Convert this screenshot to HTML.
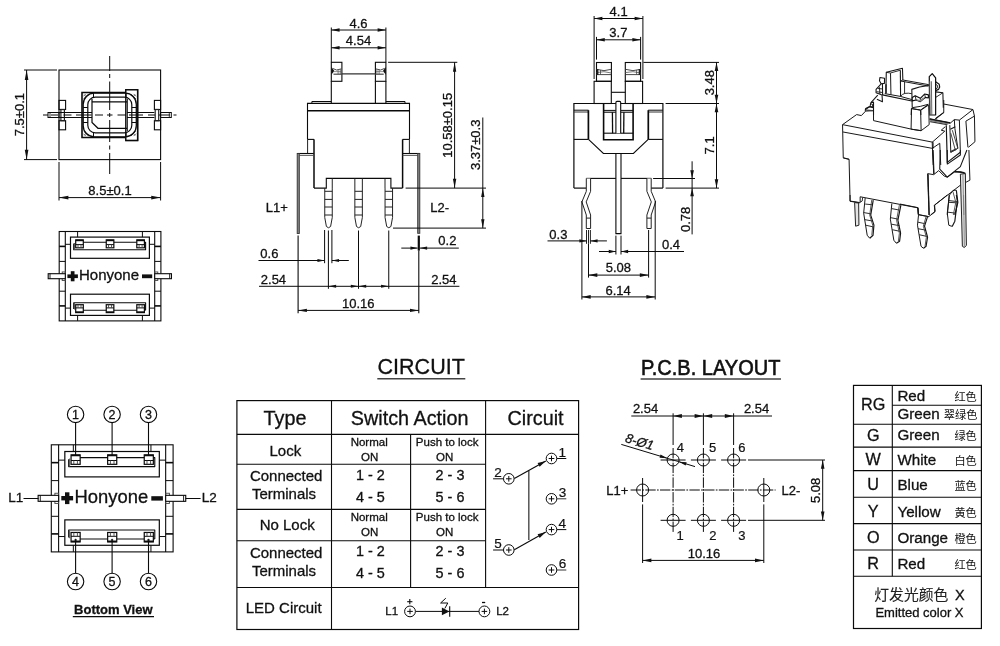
<!DOCTYPE html>
<html lang="en"><head><meta charset="utf-8"><title>Illuminated tact switch drawing</title>
<style>
html,body{margin:0;padding:0;background:#fff;}
body{width:1000px;height:646px;overflow:hidden;}
svg{display:block;will-change:transform;transform:translateZ(0);}
text{stroke:#111;stroke-width:0.3px;font-family:"Liberation Sans","Noto Sans CJK SC",sans-serif;}
</style></head><body>
<svg width="1000" height="646" viewBox="0 0 1000 646">
<rect width="1000" height="646" fill="#fff"/>
<rect x="59.00" y="70.00" width="101.60" height="89.60" fill="none" stroke="#0a0a0a" stroke-width="1.10"/>
<line x1="24.00" y1="70.00" x2="57.00" y2="70.00" stroke="#0a0a0a" stroke-width="1.00"/>
<line x1="24.00" y1="159.60" x2="57.00" y2="159.60" stroke="#0a0a0a" stroke-width="1.00"/>
<line x1="26.60" y1="70.00" x2="26.60" y2="159.60" stroke="#0a0a0a" stroke-width="1.00"/>
<polygon points="26.60,70.00 28.40,79.90 24.80,79.90" fill="#111"/>
<polygon points="26.60,159.60 24.80,149.70 28.40,149.70" fill="#111"/>
<text x="24.30" y="114.60" font-size="13" fill="#111" text-anchor="middle" transform="rotate(-90 24.30 114.60)">7.5±0.1</text>
<line x1="59.00" y1="162.00" x2="59.00" y2="200.50" stroke="#0a0a0a" stroke-width="1.00"/>
<line x1="160.60" y1="162.00" x2="160.60" y2="200.50" stroke="#0a0a0a" stroke-width="1.00"/>
<line x1="59.00" y1="197.60" x2="160.60" y2="197.60" stroke="#0a0a0a" stroke-width="1.00"/>
<polygon points="59.00,197.60 68.35,195.80 68.35,199.40" fill="#111"/>
<polygon points="160.60,197.60 151.25,199.40 151.25,195.80" fill="#111"/>
<text x="110.00" y="194.60" font-size="13" fill="#111" text-anchor="middle">8.5±0.1</text>
<rect x="59.00" y="100.40" width="6.60" height="9.10" fill="none" stroke="#0a0a0a" stroke-width="1.10"/>
<rect x="59.00" y="120.70" width="6.60" height="9.10" fill="none" stroke="#0a0a0a" stroke-width="1.10"/>
<rect x="60.90" y="109.50" width="3.50" height="11.20" fill="none" stroke="#222" stroke-width="1.20"/>
<rect x="154.40" y="100.40" width="6.20" height="9.10" fill="none" stroke="#0a0a0a" stroke-width="1.10"/>
<rect x="154.40" y="120.70" width="6.20" height="9.10" fill="none" stroke="#0a0a0a" stroke-width="1.10"/>
<rect x="155.20" y="109.50" width="3.50" height="11.20" fill="none" stroke="#222" stroke-width="1.20"/>
<rect x="48.00" y="112.50" width="11.00" height="5.00" fill="none" stroke="#0a0a0a" stroke-width="1.00"/>
<line x1="50.00" y1="112.50" x2="50.00" y2="117.50" stroke="#0a0a0a" stroke-width="0.80"/>
<rect x="160.60" y="112.50" width="10.70" height="5.00" fill="none" stroke="#0a0a0a" stroke-width="1.00"/>
<line x1="169.30" y1="112.50" x2="169.30" y2="117.50" stroke="#0a0a0a" stroke-width="0.80"/>
<line x1="59.00" y1="112.50" x2="82.00" y2="112.50" stroke="#0a0a0a" stroke-width="1.00"/>
<line x1="59.00" y1="117.50" x2="82.00" y2="117.50" stroke="#0a0a0a" stroke-width="1.00"/>
<line x1="137.50" y1="112.50" x2="154.40" y2="112.50" stroke="#0a0a0a" stroke-width="1.00"/>
<line x1="137.50" y1="117.50" x2="154.40" y2="117.50" stroke="#0a0a0a" stroke-width="1.00"/>
<rect x="125.80" y="89.70" width="11.90" height="50.90" fill="none" stroke="#0a0a0a" stroke-width="1.30"/>
<rect x="82.00" y="92.50" width="55.40" height="45.00" fill="#fff" stroke="none" stroke-width="0.00"/>
<polyline points="125.80,92.50 82.00,92.50 82.00,137.50 125.80,137.50" fill="none" stroke="#0a0a0a" stroke-width="1.60" stroke-linejoin="miter"/>
<rect x="125.80" y="89.80" width="11.80" height="50.60" fill="#fff" stroke="#0a0a0a" stroke-width="1.40"/>
<line x1="83.60" y1="99.00" x2="88.50" y2="94.10" stroke="#333" stroke-width="0.90"/>
<line x1="83.40" y1="96.30" x2="85.80" y2="93.90" stroke="#555" stroke-width="0.90"/>
<line x1="84.20" y1="94.70" x2="86.60" y2="97.10" stroke="#666" stroke-width="0.80"/>
<line x1="135.80" y1="99.00" x2="130.90" y2="94.10" stroke="#333" stroke-width="0.90"/>
<line x1="136.00" y1="96.30" x2="133.60" y2="93.90" stroke="#555" stroke-width="0.90"/>
<line x1="135.20" y1="94.70" x2="132.80" y2="97.10" stroke="#666" stroke-width="0.80"/>
<line x1="83.60" y1="131.00" x2="88.50" y2="135.90" stroke="#333" stroke-width="0.90"/>
<line x1="83.40" y1="133.70" x2="85.80" y2="136.10" stroke="#555" stroke-width="0.90"/>
<line x1="84.20" y1="135.30" x2="86.60" y2="132.90" stroke="#666" stroke-width="0.80"/>
<line x1="135.80" y1="131.00" x2="130.90" y2="135.90" stroke="#333" stroke-width="0.90"/>
<line x1="136.00" y1="133.70" x2="133.60" y2="136.10" stroke="#555" stroke-width="0.90"/>
<line x1="135.20" y1="135.30" x2="132.80" y2="132.90" stroke="#666" stroke-width="0.80"/>
<rect x="83.20" y="93.20" width="53.10" height="43.60" fill="none" stroke="#0a0a0a" stroke-width="1.30" rx="11"/>
<rect x="87.80" y="97.20" width="44.00" height="35.60" fill="none" stroke="#0a0a0a" stroke-width="1.20" rx="7.5"/>
<line x1="83.20" y1="107.50" x2="87.80" y2="107.50" stroke="#0a0a0a" stroke-width="1.00"/>
<line x1="83.20" y1="122.50" x2="87.80" y2="122.50" stroke="#0a0a0a" stroke-width="1.00"/>
<line x1="131.80" y1="107.50" x2="136.30" y2="107.50" stroke="#0a0a0a" stroke-width="1.00"/>
<line x1="131.80" y1="122.50" x2="136.30" y2="122.50" stroke="#0a0a0a" stroke-width="1.00"/>
<line x1="93.50" y1="93.20" x2="93.50" y2="97.40" stroke="#0a0a0a" stroke-width="1.00"/>
<line x1="126.00" y1="93.20" x2="126.00" y2="97.40" stroke="#0a0a0a" stroke-width="1.00"/>
<line x1="93.50" y1="132.60" x2="93.50" y2="136.80" stroke="#0a0a0a" stroke-width="1.00"/>
<line x1="126.00" y1="132.60" x2="126.00" y2="136.80" stroke="#0a0a0a" stroke-width="1.00"/>
<polyline points="92.00,101.80 127.00,101.80" fill="none" stroke="#0a0a0a" stroke-width="1.20" stroke-linejoin="miter"/>
<polyline points="92.00,99.00 92.00,122.50 98.00,128.30 127.00,128.30" fill="none" stroke="#0a0a0a" stroke-width="1.20" stroke-linejoin="miter"/>
<line x1="127.30" y1="99.00" x2="127.30" y2="131.00" stroke="#0a0a0a" stroke-width="1.00"/>
<line x1="82.00" y1="112.50" x2="92.00" y2="112.50" stroke="#0a0a0a" stroke-width="1.00"/>
<line x1="82.00" y1="117.50" x2="92.00" y2="117.50" stroke="#0a0a0a" stroke-width="1.00"/>
<line x1="127.00" y1="112.50" x2="137.50" y2="112.50" stroke="#0a0a0a" stroke-width="1.00"/>
<line x1="127.00" y1="117.50" x2="137.50" y2="117.50" stroke="#0a0a0a" stroke-width="1.00"/>
<line x1="109.70" y1="56.00" x2="109.70" y2="71.00" stroke="#0a0a0a" stroke-width="1.00"/>
<line x1="109.70" y1="74.00" x2="109.70" y2="78.00" stroke="#0a0a0a" stroke-width="1.00"/>
<line x1="109.70" y1="81.50" x2="109.70" y2="110.00" stroke="#0a0a0a" stroke-width="1.00"/>
<line x1="109.70" y1="113.00" x2="109.70" y2="117.00" stroke="#0a0a0a" stroke-width="1.00"/>
<line x1="109.70" y1="120.00" x2="109.70" y2="142.00" stroke="#0a0a0a" stroke-width="1.00"/>
<line x1="109.70" y1="145.50" x2="109.70" y2="149.50" stroke="#0a0a0a" stroke-width="1.00"/>
<line x1="109.70" y1="153.00" x2="109.70" y2="174.00" stroke="#0a0a0a" stroke-width="1.00"/>
<line x1="43.00" y1="115.00" x2="48.00" y2="115.00" stroke="#0a0a0a" stroke-width="1.00"/>
<line x1="51.00" y1="115.00" x2="58.00" y2="115.00" stroke="#0a0a0a" stroke-width="1.00"/>
<line x1="63.50" y1="115.00" x2="71.50" y2="115.00" stroke="#0a0a0a" stroke-width="1.00"/>
<line x1="76.00" y1="115.00" x2="91.50" y2="115.00" stroke="#0a0a0a" stroke-width="1.00"/>
<line x1="95.00" y1="115.00" x2="103.00" y2="115.00" stroke="#0a0a0a" stroke-width="1.00"/>
<line x1="107.00" y1="115.00" x2="112.50" y2="115.00" stroke="#0a0a0a" stroke-width="1.00"/>
<line x1="117.50" y1="115.00" x2="126.00" y2="115.00" stroke="#0a0a0a" stroke-width="1.00"/>
<line x1="129.00" y1="115.00" x2="143.00" y2="115.00" stroke="#0a0a0a" stroke-width="1.00"/>
<line x1="148.00" y1="115.00" x2="155.00" y2="115.00" stroke="#0a0a0a" stroke-width="1.00"/>
<line x1="159.00" y1="115.00" x2="170.00" y2="115.00" stroke="#0a0a0a" stroke-width="1.00"/>
<line x1="173.50" y1="115.00" x2="176.50" y2="115.00" stroke="#0a0a0a" stroke-width="1.00"/>
<rect x="59.20" y="231.50" width="101.70" height="89.40" fill="none" stroke="#0a0a0a" stroke-width="1.10"/>
<line x1="65.30" y1="231.50" x2="65.30" y2="320.90" stroke="#0a0a0a" stroke-width="1.10"/>
<line x1="154.70" y1="231.50" x2="154.70" y2="320.90" stroke="#0a0a0a" stroke-width="1.10"/>
<line x1="59.20" y1="246.40" x2="65.30" y2="246.40" stroke="#0a0a0a" stroke-width="1.60"/>
<line x1="154.70" y1="246.40" x2="160.90" y2="246.40" stroke="#0a0a0a" stroke-width="1.60"/>
<line x1="59.20" y1="261.40" x2="65.30" y2="261.40" stroke="#0a0a0a" stroke-width="1.00"/>
<line x1="154.70" y1="261.40" x2="160.90" y2="261.40" stroke="#0a0a0a" stroke-width="1.00"/>
<line x1="59.20" y1="291.20" x2="65.30" y2="291.20" stroke="#0a0a0a" stroke-width="1.00"/>
<line x1="154.70" y1="291.20" x2="160.90" y2="291.20" stroke="#0a0a0a" stroke-width="1.00"/>
<line x1="59.20" y1="305.90" x2="65.30" y2="305.90" stroke="#0a0a0a" stroke-width="1.60"/>
<line x1="154.70" y1="305.90" x2="160.90" y2="305.90" stroke="#0a0a0a" stroke-width="1.60"/>
<line x1="77.60" y1="231.50" x2="77.60" y2="237.10" stroke="#0a0a0a" stroke-width="1.00"/>
<line x1="77.60" y1="315.40" x2="77.60" y2="320.90" stroke="#0a0a0a" stroke-width="1.00"/>
<line x1="142.40" y1="231.50" x2="142.40" y2="237.10" stroke="#0a0a0a" stroke-width="1.00"/>
<line x1="142.40" y1="315.40" x2="142.40" y2="320.90" stroke="#0a0a0a" stroke-width="1.00"/>
<rect x="70.50" y="237.10" width="78.90" height="21.20" fill="none" stroke="#0a0a0a" stroke-width="1.20"/>
<rect x="70.50" y="294.20" width="78.90" height="21.20" fill="none" stroke="#0a0a0a" stroke-width="1.20"/>
<line x1="65.30" y1="244.30" x2="70.50" y2="244.30" stroke="#0a0a0a" stroke-width="1.00"/>
<line x1="149.40" y1="244.30" x2="154.70" y2="244.30" stroke="#0a0a0a" stroke-width="1.00"/>
<line x1="65.30" y1="308.10" x2="70.50" y2="308.10" stroke="#0a0a0a" stroke-width="1.00"/>
<line x1="149.40" y1="308.10" x2="154.70" y2="308.10" stroke="#0a0a0a" stroke-width="1.00"/>
<path d="M76.00,242.20 H145.60 V249.70 H73.70 V243.50" fill="none" stroke="#0a0a0a" stroke-width="1.10" stroke-linejoin="round"/>
<line x1="74.50" y1="243.00" x2="74.50" y2="249.70" stroke="#555" stroke-width="1.00"/>
<path d="M76.00,310.20 H145.60 M145.60,310.20 V302.70 H73.70 V309.00" fill="none" stroke="#0a0a0a" stroke-width="1.10" stroke-linejoin="round"/>
<line x1="74.50" y1="303.00" x2="74.50" y2="309.50" stroke="#555" stroke-width="1.00"/>
<rect x="75.70" y="239.90" width="7.60" height="7.90" fill="#fff" stroke="#0a0a0a" stroke-width="1.20"/>
<line x1="75.70" y1="240.40" x2="83.30" y2="240.40" stroke="#0a0a0a" stroke-width="1.60"/>
<line x1="75.70" y1="244.60" x2="83.30" y2="244.60" stroke="#0a0a0a" stroke-width="1.00"/>
<line x1="78.00" y1="244.60" x2="78.00" y2="247.80" stroke="#444" stroke-width="0.90"/>
<line x1="81.00" y1="244.60" x2="81.00" y2="247.80" stroke="#444" stroke-width="0.90"/>
<rect x="75.70" y="304.70" width="7.60" height="7.90" fill="#fff" stroke="#0a0a0a" stroke-width="1.20"/>
<line x1="75.70" y1="312.10" x2="83.30" y2="312.10" stroke="#0a0a0a" stroke-width="1.60"/>
<line x1="75.70" y1="307.90" x2="83.30" y2="307.90" stroke="#0a0a0a" stroke-width="1.00"/>
<line x1="78.00" y1="304.70" x2="78.00" y2="307.90" stroke="#444" stroke-width="0.90"/>
<line x1="81.00" y1="304.70" x2="81.00" y2="307.90" stroke="#444" stroke-width="0.90"/>
<rect x="106.25" y="239.90" width="7.60" height="7.90" fill="#fff" stroke="#0a0a0a" stroke-width="1.20"/>
<line x1="106.25" y1="240.40" x2="113.85" y2="240.40" stroke="#0a0a0a" stroke-width="1.60"/>
<line x1="106.25" y1="244.60" x2="113.85" y2="244.60" stroke="#0a0a0a" stroke-width="1.00"/>
<line x1="108.55" y1="244.60" x2="108.55" y2="247.80" stroke="#444" stroke-width="0.90"/>
<line x1="111.55" y1="244.60" x2="111.55" y2="247.80" stroke="#444" stroke-width="0.90"/>
<rect x="106.25" y="304.70" width="7.60" height="7.90" fill="#fff" stroke="#0a0a0a" stroke-width="1.20"/>
<line x1="106.25" y1="312.10" x2="113.85" y2="312.10" stroke="#0a0a0a" stroke-width="1.60"/>
<line x1="106.25" y1="307.90" x2="113.85" y2="307.90" stroke="#0a0a0a" stroke-width="1.00"/>
<line x1="108.55" y1="304.70" x2="108.55" y2="307.90" stroke="#444" stroke-width="0.90"/>
<line x1="111.55" y1="304.70" x2="111.55" y2="307.90" stroke="#444" stroke-width="0.90"/>
<rect x="136.80" y="239.90" width="7.60" height="7.90" fill="#fff" stroke="#0a0a0a" stroke-width="1.20"/>
<line x1="136.80" y1="240.40" x2="144.40" y2="240.40" stroke="#0a0a0a" stroke-width="1.60"/>
<line x1="136.80" y1="244.60" x2="144.40" y2="244.60" stroke="#0a0a0a" stroke-width="1.00"/>
<line x1="139.10" y1="244.60" x2="139.10" y2="247.80" stroke="#444" stroke-width="0.90"/>
<line x1="142.10" y1="244.60" x2="142.10" y2="247.80" stroke="#444" stroke-width="0.90"/>
<rect x="136.80" y="304.70" width="7.60" height="7.90" fill="#fff" stroke="#0a0a0a" stroke-width="1.20"/>
<line x1="136.80" y1="312.10" x2="144.40" y2="312.10" stroke="#0a0a0a" stroke-width="1.60"/>
<line x1="136.80" y1="307.90" x2="144.40" y2="307.90" stroke="#0a0a0a" stroke-width="1.00"/>
<line x1="139.10" y1="304.70" x2="139.10" y2="307.90" stroke="#444" stroke-width="0.90"/>
<line x1="142.10" y1="304.70" x2="142.10" y2="307.90" stroke="#444" stroke-width="0.90"/>
<rect x="62.20" y="271.95" width="3.10" height="8.50" fill="none" stroke="#444" stroke-width="0.90"/>
<rect x="154.70" y="271.95" width="3.10" height="8.50" fill="none" stroke="#444" stroke-width="0.90"/>
<rect x="48.20" y="273.70" width="17.10" height="5.00" fill="#fff" stroke="#0a0a0a" stroke-width="1.10"/>
<line x1="50.00" y1="273.70" x2="50.00" y2="278.70" stroke="#0a0a0a" stroke-width="0.90"/>
<rect x="154.70" y="273.70" width="16.76" height="5.00" fill="#fff" stroke="#0a0a0a" stroke-width="1.10"/>
<line x1="169.66" y1="273.70" x2="169.66" y2="278.70" stroke="#0a0a0a" stroke-width="0.90"/>
<rect x="67.40" y="274.40" width="10.50" height="3.70" fill="#111" stroke="none" stroke-width="0.00"/>
<rect x="70.80" y="271.20" width="3.70" height="10.10" fill="#111" stroke="none" stroke-width="0.00"/>
<rect x="142.00" y="274.40" width="10.20" height="3.80" fill="#111" stroke="none" stroke-width="0.00"/>
<text x="79.00" y="280.10" font-size="15" fill="#111">Honyone</text>
<rect x="51.30" y="444.80" width="121.80" height="107.10" fill="none" stroke="#0a0a0a" stroke-width="1.10"/>
<line x1="58.61" y1="444.80" x2="58.61" y2="551.90" stroke="#0a0a0a" stroke-width="1.10"/>
<line x1="165.67" y1="444.80" x2="165.67" y2="551.90" stroke="#0a0a0a" stroke-width="1.10"/>
<line x1="51.30" y1="462.64" x2="58.61" y2="462.64" stroke="#0a0a0a" stroke-width="1.60"/>
<line x1="165.67" y1="462.64" x2="173.10" y2="462.64" stroke="#0a0a0a" stroke-width="1.60"/>
<line x1="51.30" y1="480.61" x2="58.61" y2="480.61" stroke="#0a0a0a" stroke-width="1.00"/>
<line x1="165.67" y1="480.61" x2="173.10" y2="480.61" stroke="#0a0a0a" stroke-width="1.00"/>
<line x1="51.30" y1="516.30" x2="58.61" y2="516.30" stroke="#0a0a0a" stroke-width="1.00"/>
<line x1="165.67" y1="516.30" x2="173.10" y2="516.30" stroke="#0a0a0a" stroke-width="1.00"/>
<line x1="51.30" y1="533.90" x2="58.61" y2="533.90" stroke="#0a0a0a" stroke-width="1.60"/>
<line x1="165.67" y1="533.90" x2="173.10" y2="533.90" stroke="#0a0a0a" stroke-width="1.60"/>
<line x1="73.34" y1="444.80" x2="73.34" y2="451.51" stroke="#0a0a0a" stroke-width="1.00"/>
<line x1="73.34" y1="545.28" x2="73.34" y2="551.90" stroke="#0a0a0a" stroke-width="1.00"/>
<line x1="150.94" y1="444.80" x2="150.94" y2="451.51" stroke="#0a0a0a" stroke-width="1.00"/>
<line x1="150.94" y1="545.28" x2="150.94" y2="551.90" stroke="#0a0a0a" stroke-width="1.00"/>
<rect x="64.83" y="451.51" width="94.49" height="25.39" fill="none" stroke="#0a0a0a" stroke-width="1.20"/>
<rect x="64.83" y="519.89" width="94.49" height="25.39" fill="none" stroke="#0a0a0a" stroke-width="1.20"/>
<line x1="58.61" y1="460.13" x2="64.83" y2="460.13" stroke="#0a0a0a" stroke-width="1.00"/>
<line x1="159.33" y1="460.13" x2="165.67" y2="460.13" stroke="#0a0a0a" stroke-width="1.00"/>
<line x1="58.61" y1="536.54" x2="64.83" y2="536.54" stroke="#0a0a0a" stroke-width="1.00"/>
<line x1="159.33" y1="536.54" x2="165.67" y2="536.54" stroke="#0a0a0a" stroke-width="1.00"/>
<path d="M71.42,457.61 H154.78 V466.60 H68.67 V459.17" fill="none" stroke="#0a0a0a" stroke-width="1.10" stroke-linejoin="round"/>
<line x1="69.62" y1="458.57" x2="69.62" y2="466.60" stroke="#555" stroke-width="1.00"/>
<path d="M71.42,539.05 H154.78 M154.78,539.05 V530.07 H68.67 V537.62" fill="none" stroke="#0a0a0a" stroke-width="1.10" stroke-linejoin="round"/>
<line x1="69.62" y1="530.43" x2="69.62" y2="538.22" stroke="#555" stroke-width="1.00"/>
<rect x="71.06" y="454.86" width="9.10" height="9.46" fill="#fff" stroke="#0a0a0a" stroke-width="1.20"/>
<line x1="71.06" y1="455.46" x2="80.16" y2="455.46" stroke="#0a0a0a" stroke-width="1.60"/>
<line x1="71.06" y1="460.49" x2="80.16" y2="460.49" stroke="#0a0a0a" stroke-width="1.00"/>
<line x1="73.82" y1="460.49" x2="73.82" y2="464.32" stroke="#444" stroke-width="0.90"/>
<line x1="77.41" y1="460.49" x2="77.41" y2="464.32" stroke="#444" stroke-width="0.90"/>
<rect x="71.06" y="532.47" width="9.10" height="9.46" fill="#fff" stroke="#0a0a0a" stroke-width="1.20"/>
<line x1="71.06" y1="541.33" x2="80.16" y2="541.33" stroke="#0a0a0a" stroke-width="1.60"/>
<line x1="71.06" y1="536.30" x2="80.16" y2="536.30" stroke="#0a0a0a" stroke-width="1.00"/>
<line x1="73.82" y1="532.47" x2="73.82" y2="536.30" stroke="#444" stroke-width="0.90"/>
<line x1="77.41" y1="532.47" x2="77.41" y2="536.30" stroke="#444" stroke-width="0.90"/>
<rect x="107.65" y="454.86" width="9.10" height="9.46" fill="#fff" stroke="#0a0a0a" stroke-width="1.20"/>
<line x1="107.65" y1="455.46" x2="116.75" y2="455.46" stroke="#0a0a0a" stroke-width="1.60"/>
<line x1="107.65" y1="460.49" x2="116.75" y2="460.49" stroke="#0a0a0a" stroke-width="1.00"/>
<line x1="110.40" y1="460.49" x2="110.40" y2="464.32" stroke="#444" stroke-width="0.90"/>
<line x1="114.00" y1="460.49" x2="114.00" y2="464.32" stroke="#444" stroke-width="0.90"/>
<rect x="107.65" y="532.47" width="9.10" height="9.46" fill="#fff" stroke="#0a0a0a" stroke-width="1.20"/>
<line x1="107.65" y1="541.33" x2="116.75" y2="541.33" stroke="#0a0a0a" stroke-width="1.60"/>
<line x1="107.65" y1="536.30" x2="116.75" y2="536.30" stroke="#0a0a0a" stroke-width="1.00"/>
<line x1="110.40" y1="532.47" x2="110.40" y2="536.30" stroke="#444" stroke-width="0.90"/>
<line x1="114.00" y1="532.47" x2="114.00" y2="536.30" stroke="#444" stroke-width="0.90"/>
<rect x="144.24" y="454.86" width="9.10" height="9.46" fill="#fff" stroke="#0a0a0a" stroke-width="1.20"/>
<line x1="144.24" y1="455.46" x2="153.34" y2="455.46" stroke="#0a0a0a" stroke-width="1.60"/>
<line x1="144.24" y1="460.49" x2="153.34" y2="460.49" stroke="#0a0a0a" stroke-width="1.00"/>
<line x1="146.99" y1="460.49" x2="146.99" y2="464.32" stroke="#444" stroke-width="0.90"/>
<line x1="150.58" y1="460.49" x2="150.58" y2="464.32" stroke="#444" stroke-width="0.90"/>
<rect x="144.24" y="532.47" width="9.10" height="9.46" fill="#fff" stroke="#0a0a0a" stroke-width="1.20"/>
<line x1="144.24" y1="541.33" x2="153.34" y2="541.33" stroke="#0a0a0a" stroke-width="1.60"/>
<line x1="144.24" y1="536.30" x2="153.34" y2="536.30" stroke="#0a0a0a" stroke-width="1.00"/>
<line x1="146.99" y1="532.47" x2="146.99" y2="536.30" stroke="#444" stroke-width="0.90"/>
<line x1="150.58" y1="532.47" x2="150.58" y2="536.30" stroke="#444" stroke-width="0.90"/>
<rect x="54.89" y="493.24" width="3.71" height="10.18" fill="none" stroke="#444" stroke-width="0.90"/>
<rect x="165.67" y="493.24" width="3.71" height="10.18" fill="none" stroke="#444" stroke-width="0.90"/>
<rect x="38.13" y="495.34" width="20.48" height="5.99" fill="#fff" stroke="#0a0a0a" stroke-width="1.10"/>
<line x1="40.28" y1="495.34" x2="40.28" y2="501.33" stroke="#0a0a0a" stroke-width="0.90"/>
<rect x="165.67" y="495.34" width="20.07" height="5.99" fill="#fff" stroke="#0a0a0a" stroke-width="1.10"/>
<line x1="183.59" y1="495.34" x2="183.59" y2="501.33" stroke="#0a0a0a" stroke-width="0.90"/>
<rect x="61.30" y="496.00" width="11.80" height="4.40" fill="#111" stroke="none" stroke-width="0.00"/>
<rect x="65.00" y="492.30" width="4.40" height="11.80" fill="#111" stroke="none" stroke-width="0.00"/>
<rect x="151.30" y="496.20" width="11.60" height="4.40" fill="#111" stroke="none" stroke-width="0.00"/>
<text x="74.60" y="503.00" font-size="18.4" fill="#111">Honyone</text>
<line x1="23.50" y1="498.50" x2="38.50" y2="498.50" stroke="#0a0a0a" stroke-width="1.00"/>
<line x1="185.60" y1="498.50" x2="200.60" y2="498.50" stroke="#0a0a0a" stroke-width="1.00"/>
<text x="8.20" y="502.00" font-size="13.5" fill="#111">L1</text>
<text x="201.80" y="502.00" font-size="13.5" fill="#111">L2</text>
<circle cx="75.60" cy="414.40" r="8.20" fill="none" stroke="#0a0a0a" stroke-width="1.10"/>
<text x="75.60" y="418.90" font-size="12.5" fill="#111" text-anchor="middle">1</text>
<line x1="75.60" y1="422.60" x2="75.60" y2="456.00" stroke="#0a0a0a" stroke-width="1.10"/>
<circle cx="75.60" cy="581.50" r="8.20" fill="none" stroke="#0a0a0a" stroke-width="1.10"/>
<text x="75.60" y="586.00" font-size="12.5" fill="#111" text-anchor="middle">4</text>
<line x1="75.60" y1="541.00" x2="75.60" y2="573.30" stroke="#0a0a0a" stroke-width="1.10"/>
<circle cx="75.60" cy="540.00" r="0.90" fill="#111" stroke="#0a0a0a" stroke-width="0.50"/>
<circle cx="112.10" cy="414.40" r="8.20" fill="none" stroke="#0a0a0a" stroke-width="1.10"/>
<text x="112.10" y="418.90" font-size="12.5" fill="#111" text-anchor="middle">2</text>
<line x1="112.10" y1="422.60" x2="112.10" y2="456.00" stroke="#0a0a0a" stroke-width="1.10"/>
<circle cx="112.10" cy="581.50" r="8.20" fill="none" stroke="#0a0a0a" stroke-width="1.10"/>
<text x="112.10" y="586.00" font-size="12.5" fill="#111" text-anchor="middle">5</text>
<line x1="112.10" y1="541.00" x2="112.10" y2="573.30" stroke="#0a0a0a" stroke-width="1.10"/>
<circle cx="112.10" cy="540.00" r="0.90" fill="#111" stroke="#0a0a0a" stroke-width="0.50"/>
<circle cx="148.50" cy="414.40" r="8.20" fill="none" stroke="#0a0a0a" stroke-width="1.10"/>
<text x="148.50" y="418.90" font-size="12.5" fill="#111" text-anchor="middle">3</text>
<line x1="148.50" y1="422.60" x2="148.50" y2="456.00" stroke="#0a0a0a" stroke-width="1.10"/>
<circle cx="148.50" cy="581.50" r="8.20" fill="none" stroke="#0a0a0a" stroke-width="1.10"/>
<text x="148.50" y="586.00" font-size="12.5" fill="#111" text-anchor="middle">6</text>
<line x1="148.50" y1="541.00" x2="148.50" y2="573.30" stroke="#0a0a0a" stroke-width="1.10"/>
<circle cx="148.50" cy="540.00" r="0.90" fill="#111" stroke="#0a0a0a" stroke-width="0.50"/>
<text x="113.30" y="613.90" font-size="13" fill="#111" text-anchor="middle" font-weight="bold">Bottom View</text>
<line x1="72.80" y1="616.70" x2="154.00" y2="616.70" stroke="#0a0a0a" stroke-width="1.30"/>
<line x1="331.30" y1="27.50" x2="331.30" y2="62.30" stroke="#0a0a0a" stroke-width="1.00"/>
<line x1="385.90" y1="27.50" x2="385.90" y2="62.30" stroke="#0a0a0a" stroke-width="1.00"/>
<line x1="331.30" y1="30.00" x2="385.90" y2="30.00" stroke="#0a0a0a" stroke-width="1.00"/>
<polygon points="331.30,30.00 339.55,28.32 339.55,31.68" fill="#111"/>
<polygon points="385.90,30.00 377.65,31.68 377.65,28.32" fill="#111"/>
<line x1="331.30" y1="47.80" x2="385.90" y2="47.80" stroke="#0a0a0a" stroke-width="1.00"/>
<polygon points="331.30,47.80 339.55,46.12 339.55,49.48" fill="#111"/>
<polygon points="385.90,47.80 377.65,49.48 377.65,46.12" fill="#111"/>
<text x="358.50" y="27.50" font-size="13" fill="#111" text-anchor="middle">4.6</text>
<text x="358.50" y="45.20" font-size="13" fill="#111" text-anchor="middle">4.54</text>
<rect x="331.30" y="62.30" width="10.60" height="19.00" fill="none" stroke="#0a0a0a" stroke-width="1.10"/>
<polygon points="331.30,67.0 334.30,70.9 331.30,74.8" fill="#111"/>
<path d="M332.50,68.4 Q336.30,71.4 341.30,68.9" fill="none" stroke="#333" stroke-width="0.90" stroke-linejoin="round"/>
<line x1="333.50" y1="74.20" x2="341.90" y2="74.20" stroke="#444" stroke-width="1.20"/>
<line x1="333.70" y1="71.60" x2="341.10" y2="71.60" stroke="#777" stroke-width="0.80"/>
<line x1="338.10" y1="69.60" x2="338.10" y2="74.20" stroke="#555" stroke-width="0.80"/>
<line x1="340.30" y1="69.20" x2="340.30" y2="74.20" stroke="#555" stroke-width="0.80"/>
<rect x="375.40" y="62.30" width="10.50" height="19.00" fill="none" stroke="#0a0a0a" stroke-width="1.10"/>
<polygon points="385.90,67.0 382.90,70.9 385.90,74.8" fill="#111"/>
<path d="M384.70,68.4 Q380.90,71.4 375.90,68.9" fill="none" stroke="#333" stroke-width="0.90" stroke-linejoin="round"/>
<line x1="383.70" y1="74.20" x2="375.30" y2="74.20" stroke="#444" stroke-width="1.20"/>
<line x1="383.50" y1="71.60" x2="376.10" y2="71.60" stroke="#777" stroke-width="0.80"/>
<line x1="379.10" y1="69.60" x2="379.10" y2="74.20" stroke="#555" stroke-width="0.80"/>
<line x1="376.90" y1="69.20" x2="376.90" y2="74.20" stroke="#555" stroke-width="0.80"/>
<line x1="341.90" y1="73.90" x2="375.40" y2="73.90" stroke="#333" stroke-width="1.40"/>
<line x1="331.30" y1="81.30" x2="331.30" y2="103.30" stroke="#0a0a0a" stroke-width="1.10"/>
<line x1="375.40" y1="81.30" x2="375.40" y2="103.30" stroke="#0a0a0a" stroke-width="1.10"/>
<line x1="385.90" y1="81.30" x2="385.90" y2="103.30" stroke="#0a0a0a" stroke-width="1.10"/>
<polyline points="311.90,103.30 311.90,101.50 331.30,101.50" fill="none" stroke="#0a0a0a" stroke-width="1.00" stroke-linejoin="miter"/>
<polyline points="385.90,101.50 405.00,101.50 405.00,103.30" fill="none" stroke="#0a0a0a" stroke-width="1.00" stroke-linejoin="miter"/>
<polyline points="307.50,139.40 307.50,103.40 409.50,103.40 409.50,139.40" fill="none" stroke="#0a0a0a" stroke-width="1.10" stroke-linejoin="miter"/>
<line x1="307.50" y1="110.70" x2="409.50" y2="110.70" stroke="#0a0a0a" stroke-width="1.50"/>
<line x1="307.50" y1="139.40" x2="314.20" y2="139.40" stroke="#0a0a0a" stroke-width="1.10"/>
<line x1="307.60" y1="139.40" x2="307.60" y2="153.40" stroke="#222" stroke-width="1.00"/>
<line x1="314.00" y1="139.40" x2="314.00" y2="188.10" stroke="#0a0a0a" stroke-width="1.50"/>
<line x1="297.30" y1="153.50" x2="313.80" y2="153.50" stroke="#0a0a0a" stroke-width="1.10"/>
<line x1="299.20" y1="155.40" x2="313.80" y2="155.40" stroke="#444" stroke-width="0.90"/>
<rect x="297.20" y="153.50" width="2.10" height="80.00" fill="#888" stroke="#333" stroke-width="0.90"/>
<polyline points="314.00,188.10 326.30,188.10 326.30,178.40 390.90,178.40 390.90,188.10 402.50,188.10" fill="none" stroke="#0a0a0a" stroke-width="1.10" stroke-linejoin="miter"/>
<line x1="402.50" y1="139.40" x2="409.50" y2="139.40" stroke="#0a0a0a" stroke-width="1.10"/>
<line x1="409.40" y1="139.40" x2="409.40" y2="153.40" stroke="#222" stroke-width="1.00"/>
<line x1="402.60" y1="139.40" x2="402.60" y2="188.10" stroke="#0a0a0a" stroke-width="1.50"/>
<line x1="402.60" y1="153.50" x2="419.90" y2="153.50" stroke="#0a0a0a" stroke-width="1.10"/>
<line x1="402.60" y1="155.40" x2="417.80" y2="155.40" stroke="#444" stroke-width="0.90"/>
<rect x="417.70" y="153.50" width="2.10" height="79.80" fill="#888" stroke="#333" stroke-width="0.90"/>
<line x1="418.80" y1="235.60" x2="418.80" y2="250.60" stroke="#0a0a0a" stroke-width="2.20"/>
<line x1="324.75" y1="188.10" x2="324.75" y2="217.50" stroke="#222" stroke-width="1.00"/>
<line x1="332.25" y1="188.10" x2="332.25" y2="217.50" stroke="#222" stroke-width="1.00"/>
<line x1="324.75" y1="191.30" x2="332.25" y2="191.30" stroke="#222" stroke-width="1.00"/>
<line x1="324.75" y1="199.40" x2="332.25" y2="199.40" stroke="#222" stroke-width="1.00"/>
<line x1="324.75" y1="207.00" x2="332.25" y2="207.00" stroke="#222" stroke-width="1.00"/>
<line x1="324.75" y1="215.00" x2="332.25" y2="215.00" stroke="#222" stroke-width="1.00"/>
<path d="M324.75,217.5 L326.40,226.5 Q328.50,229 330.60,226.5 L332.25,217.5" fill="none" stroke="#222" stroke-width="1.00" stroke-linejoin="round"/>
<line x1="354.85" y1="178.40" x2="354.85" y2="217.50" stroke="#222" stroke-width="1.00"/>
<line x1="362.35" y1="178.40" x2="362.35" y2="217.50" stroke="#222" stroke-width="1.00"/>
<line x1="354.85" y1="191.30" x2="362.35" y2="191.30" stroke="#222" stroke-width="1.00"/>
<line x1="354.85" y1="199.40" x2="362.35" y2="199.40" stroke="#222" stroke-width="1.00"/>
<line x1="354.85" y1="207.00" x2="362.35" y2="207.00" stroke="#222" stroke-width="1.00"/>
<line x1="354.85" y1="215.00" x2="362.35" y2="215.00" stroke="#222" stroke-width="1.00"/>
<path d="M354.85,217.5 L356.50,226.5 Q358.60,229 360.70,226.5 L362.35,217.5" fill="none" stroke="#222" stroke-width="1.00" stroke-linejoin="round"/>
<line x1="385.05" y1="188.10" x2="385.05" y2="217.50" stroke="#222" stroke-width="1.00"/>
<line x1="392.55" y1="188.10" x2="392.55" y2="217.50" stroke="#222" stroke-width="1.00"/>
<line x1="385.05" y1="191.30" x2="392.55" y2="191.30" stroke="#222" stroke-width="1.00"/>
<line x1="385.05" y1="199.40" x2="392.55" y2="199.40" stroke="#222" stroke-width="1.00"/>
<line x1="385.05" y1="207.00" x2="392.55" y2="207.00" stroke="#222" stroke-width="1.00"/>
<line x1="385.05" y1="215.00" x2="392.55" y2="215.00" stroke="#222" stroke-width="1.00"/>
<path d="M385.05,217.5 L386.70,226.5 Q388.80,229 390.90,226.5 L392.55,217.5" fill="none" stroke="#222" stroke-width="1.00" stroke-linejoin="round"/>
<line x1="332.25" y1="178.40" x2="332.25" y2="188.10" stroke="#222" stroke-width="1.00"/>
<line x1="385.00" y1="178.40" x2="385.00" y2="188.10" stroke="#222" stroke-width="1.00"/>
<text x="265.80" y="212.30" font-size="13" fill="#111">L1+</text>
<text x="430.30" y="212.30" font-size="13" fill="#111">L2-</text>
<line x1="324.60" y1="230.00" x2="324.60" y2="263.20" stroke="#0a0a0a" stroke-width="1.00"/>
<line x1="331.90" y1="230.00" x2="331.90" y2="263.20" stroke="#0a0a0a" stroke-width="1.00"/>
<line x1="328.40" y1="230.50" x2="328.40" y2="288.80" stroke="#0a0a0a" stroke-width="1.00"/>
<line x1="358.50" y1="230.50" x2="358.50" y2="288.80" stroke="#0a0a0a" stroke-width="1.00"/>
<line x1="388.75" y1="230.50" x2="388.75" y2="288.80" stroke="#0a0a0a" stroke-width="1.00"/>
<line x1="258.50" y1="260.50" x2="324.60" y2="260.50" stroke="#0a0a0a" stroke-width="1.00"/>
<polygon points="324.60,260.50 317.45,262.06 317.45,258.94" fill="#111"/>
<line x1="331.90" y1="260.50" x2="348.80" y2="260.50" stroke="#0a0a0a" stroke-width="1.00"/>
<polygon points="331.90,260.50 339.05,258.94 339.05,262.06" fill="#111"/>
<text x="260.30" y="258.10" font-size="13" fill="#111">0.6</text>
<line x1="259.00" y1="286.30" x2="459.40" y2="286.30" stroke="#0a0a0a" stroke-width="1.00"/>
<polygon points="328.40,286.30 336.10,284.74 336.10,287.86" fill="#111"/>
<polygon points="358.50,286.30 350.80,287.86 350.80,284.74" fill="#111"/>
<polygon points="358.50,286.30 366.20,284.74 366.20,287.86" fill="#111"/>
<polygon points="388.75,286.30 381.05,287.86 381.05,284.74" fill="#111"/>
<text x="260.80" y="283.50" font-size="13" fill="#111">2.54</text>
<text x="431.20" y="283.50" font-size="13" fill="#111">2.54</text>
<line x1="298.10" y1="235.60" x2="298.10" y2="313.20" stroke="#0a0a0a" stroke-width="1.10"/>
<line x1="418.80" y1="250.60" x2="418.80" y2="313.20" stroke="#0a0a0a" stroke-width="1.10"/>
<line x1="298.10" y1="310.40" x2="418.80" y2="310.40" stroke="#0a0a0a" stroke-width="1.00"/>
<polygon points="298.10,310.40 306.90,308.72 306.90,312.08" fill="#111"/>
<polygon points="418.80,310.40 410.00,312.08 410.00,308.72" fill="#111"/>
<text x="358.30" y="308.10" font-size="13" fill="#111" text-anchor="middle">10.16</text>
<line x1="401.30" y1="248.10" x2="417.60" y2="248.10" stroke="#0a0a0a" stroke-width="1.00"/>
<polygon points="417.60,248.10 410.45,249.66 410.45,246.54" fill="#111"/>
<line x1="420.00" y1="248.10" x2="458.80" y2="248.10" stroke="#0a0a0a" stroke-width="1.00"/>
<polygon points="420.00,248.10 427.15,246.54 427.15,249.66" fill="#111"/>
<text x="438.30" y="245.30" font-size="13" fill="#111">0.2</text>
<line x1="388.10" y1="62.30" x2="457.30" y2="62.30" stroke="#0a0a0a" stroke-width="1.00"/>
<line x1="405.60" y1="188.10" x2="486.00" y2="188.10" stroke="#0a0a0a" stroke-width="1.00"/>
<line x1="393.00" y1="228.10" x2="486.00" y2="228.10" stroke="#0a0a0a" stroke-width="1.00"/>
<line x1="454.60" y1="62.30" x2="454.60" y2="188.10" stroke="#0a0a0a" stroke-width="1.00"/>
<polygon points="454.60,62.30 456.28,71.65 452.92,71.65" fill="#111"/>
<polygon points="454.60,188.10 452.92,178.75 456.28,178.75" fill="#111"/>
<text x="452.20" y="125.30" font-size="13" fill="#111" text-anchor="middle" transform="rotate(-90 452.20 125.30)">10.58±0.15</text>
<line x1="482.80" y1="117.50" x2="482.80" y2="228.10" stroke="#0a0a0a" stroke-width="1.00"/>
<polygon points="482.80,188.10 484.48,196.90 481.12,196.90" fill="#111"/>
<polygon points="482.80,228.10 481.12,219.30 484.48,219.30" fill="#111"/>
<text x="480.50" y="144.80" font-size="13" fill="#111" text-anchor="middle" transform="rotate(-90 480.50 144.80)">3.37±0.3</text>
<line x1="594.10" y1="16.00" x2="594.10" y2="79.00" stroke="#0a0a0a" stroke-width="1.00"/>
<line x1="642.90" y1="16.00" x2="642.90" y2="79.00" stroke="#0a0a0a" stroke-width="1.00"/>
<line x1="594.10" y1="18.50" x2="642.90" y2="18.50" stroke="#0a0a0a" stroke-width="1.00"/>
<polygon points="594.10,18.50 602.35,16.70 602.35,20.30" fill="#111"/>
<polygon points="642.90,18.50 634.65,20.30 634.65,16.70" fill="#111"/>
<text x="618.60" y="16.00" font-size="13" fill="#111" text-anchor="middle">4.1</text>
<line x1="596.50" y1="36.90" x2="596.50" y2="59.60" stroke="#0a0a0a" stroke-width="1.00"/>
<line x1="640.60" y1="36.90" x2="640.60" y2="59.60" stroke="#0a0a0a" stroke-width="1.00"/>
<line x1="596.50" y1="39.80" x2="640.60" y2="39.80" stroke="#0a0a0a" stroke-width="1.00"/>
<polygon points="596.50,39.80 604.75,38.00 604.75,41.60" fill="#111"/>
<polygon points="640.60,39.80 632.35,41.60 632.35,38.00" fill="#111"/>
<text x="618.40" y="37.10" font-size="13" fill="#111" text-anchor="middle">3.7</text>
<rect x="596.50" y="62.50" width="14.90" height="18.80" fill="none" stroke="#0a0a0a" stroke-width="1.10"/>
<path d="M596.5,69.3 Q604.0,72 611.4,69.3" fill="none" stroke="#333" stroke-width="0.90" stroke-linejoin="round"/>
<path d="M596.5,74.6 L611.4,74.6" fill="none" stroke="#333" stroke-width="0.90" stroke-linejoin="round"/>
<path d="M596.5,72.6 Q604.0,70.6 611.4,73" fill="none" stroke="#555" stroke-width="0.80" stroke-linejoin="round"/>
<rect x="625.30" y="62.50" width="15.30" height="18.80" fill="none" stroke="#0a0a0a" stroke-width="1.10"/>
<path d="M625.3,69.3 Q633.0,72 640.6,69.3" fill="none" stroke="#333" stroke-width="0.90" stroke-linejoin="round"/>
<path d="M625.3,74.6 L640.6,74.6" fill="none" stroke="#333" stroke-width="0.90" stroke-linejoin="round"/>
<path d="M625.3,72.6 Q633.0,70.6 640.6,73" fill="none" stroke="#555" stroke-width="0.80" stroke-linejoin="round"/>
<line x1="597.60" y1="69.00" x2="597.60" y2="75.00" stroke="#222" stroke-width="1.60"/>
<line x1="639.50" y1="69.00" x2="639.50" y2="75.00" stroke="#222" stroke-width="1.60"/>
<line x1="600.50" y1="70.00" x2="600.50" y2="74.60" stroke="#444" stroke-width="0.80"/>
<line x1="636.60" y1="70.00" x2="636.60" y2="74.60" stroke="#444" stroke-width="0.80"/>
<rect x="594.10" y="81.30" width="17.20" height="22.20" fill="none" stroke="#0a0a0a" stroke-width="1.10"/>
<rect x="625.30" y="81.30" width="17.30" height="22.20" fill="none" stroke="#0a0a0a" stroke-width="1.10"/>
<line x1="611.30" y1="92.30" x2="625.30" y2="92.30" stroke="#0a0a0a" stroke-width="1.10"/>
<polyline points="573.90,188.10 573.90,103.50 662.90,103.50 662.90,188.10" fill="none" stroke="#0a0a0a" stroke-width="1.20" stroke-linejoin="miter"/>
<polyline points="573.90,110.20 588.50,110.20" fill="none" stroke="#0a0a0a" stroke-width="1.00" stroke-linejoin="miter"/>
<polyline points="573.90,112.00 588.50,112.00" fill="none" stroke="#333" stroke-width="1.00" stroke-linejoin="miter"/>
<line x1="588.40" y1="110.20" x2="588.40" y2="139.40" stroke="#0a0a0a" stroke-width="1.70"/>
<line x1="573.90" y1="139.40" x2="588.50" y2="139.40" stroke="#0a0a0a" stroke-width="1.10"/>
<polyline points="648.20,110.20 662.90,110.20" fill="none" stroke="#0a0a0a" stroke-width="1.00" stroke-linejoin="miter"/>
<polyline points="648.20,112.00 662.90,112.00" fill="none" stroke="#333" stroke-width="1.00" stroke-linejoin="miter"/>
<line x1="648.30" y1="110.20" x2="648.30" y2="139.40" stroke="#0a0a0a" stroke-width="1.70"/>
<line x1="648.20" y1="139.40" x2="662.90" y2="139.40" stroke="#0a0a0a" stroke-width="1.10"/>
<polyline points="588.50,139.40 603.40,153.50 633.40,153.50 648.20,139.40" fill="none" stroke="#0a0a0a" stroke-width="1.10" stroke-linejoin="miter"/>
<polyline points="603.60,103.50 603.60,139.80 633.10,139.80 633.10,103.50" fill="none" stroke="#0a0a0a" stroke-width="1.60" stroke-linejoin="miter"/>
<line x1="603.60" y1="110.40" x2="615.90" y2="110.40" stroke="#0a0a0a" stroke-width="1.00"/>
<line x1="603.60" y1="112.20" x2="615.90" y2="112.20" stroke="#0a0a0a" stroke-width="1.10"/>
<line x1="620.70" y1="110.40" x2="633.10" y2="110.40" stroke="#0a0a0a" stroke-width="1.00"/>
<line x1="620.70" y1="112.20" x2="633.10" y2="112.20" stroke="#0a0a0a" stroke-width="1.10"/>
<line x1="603.60" y1="133.20" x2="633.10" y2="133.20" stroke="#0a0a0a" stroke-width="1.10"/>
<polyline points="612.40,112.20 612.60,133.20" fill="none" stroke="#0a0a0a" stroke-width="1.30" stroke-linejoin="miter"/>
<polyline points="623.90,112.20 623.70,133.20" fill="none" stroke="#0a0a0a" stroke-width="1.30" stroke-linejoin="miter"/>
<path d="M615.9,133.2 V102.6 Q615.9,101.4 617,101.4 H619.6 Q620.7,101.4 620.7,102.6 V133.2" fill="#fff" stroke="#0a0a0a" stroke-width="1.10" stroke-linejoin="round"/>
<polyline points="615.90,153.50 615.90,233.60 621.00,233.60 621.00,153.50" fill="none" stroke="#0a0a0a" stroke-width="1.10" stroke-linejoin="miter"/>
<polyline points="573.90,188.10 586.20,188.10" fill="none" stroke="#0a0a0a" stroke-width="1.20" stroke-linejoin="miter"/>
<line x1="586.30" y1="178.40" x2="615.90" y2="178.40" stroke="#0a0a0a" stroke-width="1.10"/>
<line x1="621.00" y1="178.40" x2="651.30" y2="178.40" stroke="#0a0a0a" stroke-width="1.10"/>
<polyline points="650.90,188.10 662.90,188.10" fill="none" stroke="#0a0a0a" stroke-width="1.20" stroke-linejoin="miter"/>
<path d="M586.3,178.4 V191.3 L581.9,201.9 L586.3,215 V228.5 H590.6 V215 L586.2,201.9 L590.6,191.3 V178.4" fill="#fff" stroke="#222" stroke-width="1.00" stroke-linejoin="round"/>
<line x1="586.30" y1="218.10" x2="590.60" y2="218.10" stroke="#222" stroke-width="1.00"/>
<path d="M651.2,178.4 V191.3 L655.6,201.9 L651.2,215 V228.5 H646.9 V215 L651.3,201.9 L646.9,191.3 V178.4" fill="#fff" stroke="#222" stroke-width="1.00" stroke-linejoin="round"/>
<line x1="651.20" y1="218.10" x2="646.90" y2="218.10" stroke="#222" stroke-width="1.00"/>
<line x1="581.90" y1="201.00" x2="581.90" y2="299.50" stroke="#0a0a0a" stroke-width="1.00"/>
<line x1="655.20" y1="201.00" x2="655.20" y2="299.50" stroke="#0a0a0a" stroke-width="1.00"/>
<line x1="586.50" y1="230.00" x2="586.50" y2="243.80" stroke="#0a0a0a" stroke-width="0.90"/>
<line x1="588.50" y1="230.00" x2="588.50" y2="243.80" stroke="#0a0a0a" stroke-width="0.90"/>
<line x1="590.40" y1="230.00" x2="590.40" y2="243.80" stroke="#0a0a0a" stroke-width="0.90"/>
<line x1="588.50" y1="243.80" x2="588.50" y2="277.60" stroke="#0a0a0a" stroke-width="1.00"/>
<line x1="547.50" y1="240.90" x2="586.50" y2="240.90" stroke="#0a0a0a" stroke-width="1.00"/>
<polygon points="586.50,240.90 579.35,242.58 579.35,239.22" fill="#111"/>
<line x1="590.40" y1="240.90" x2="606.90" y2="240.90" stroke="#0a0a0a" stroke-width="1.00"/>
<polygon points="590.40,240.90 597.55,239.22 597.55,242.58" fill="#111"/>
<text x="549.30" y="238.50" font-size="13" fill="#111">0.3</text>
<line x1="615.90" y1="235.60" x2="615.90" y2="254.50" stroke="#0a0a0a" stroke-width="1.00"/>
<line x1="621.00" y1="235.60" x2="621.00" y2="254.50" stroke="#0a0a0a" stroke-width="1.00"/>
<line x1="599.00" y1="251.50" x2="615.90" y2="251.50" stroke="#0a0a0a" stroke-width="1.00"/>
<polygon points="615.90,251.50 608.75,253.18 608.75,249.82" fill="#111"/>
<line x1="621.00" y1="251.50" x2="684.00" y2="251.50" stroke="#0a0a0a" stroke-width="1.00"/>
<polygon points="621.00,251.50 628.15,249.82 628.15,253.18" fill="#111"/>
<text x="662.00" y="248.80" font-size="13" fill="#111">0.4</text>
<line x1="648.60" y1="230.00" x2="648.60" y2="277.60" stroke="#0a0a0a" stroke-width="1.00"/>
<line x1="588.50" y1="275.10" x2="648.60" y2="275.10" stroke="#0a0a0a" stroke-width="1.00"/>
<polygon points="588.50,275.10 597.30,273.30 597.30,276.90" fill="#111"/>
<polygon points="648.60,275.10 639.80,276.90 639.80,273.30" fill="#111"/>
<text x="618.40" y="272.30" font-size="13" fill="#111" text-anchor="middle">5.08</text>
<line x1="581.90" y1="296.90" x2="655.20" y2="296.90" stroke="#0a0a0a" stroke-width="1.00"/>
<polygon points="581.90,296.90 590.70,295.10 590.70,298.70" fill="#111"/>
<polygon points="655.20,296.90 646.40,298.70 646.40,295.10" fill="#111"/>
<text x="618.20" y="294.80" font-size="13" fill="#111" text-anchor="middle">6.14</text>
<line x1="643.40" y1="62.40" x2="719.00" y2="62.40" stroke="#0a0a0a" stroke-width="1.00"/>
<line x1="665.60" y1="103.50" x2="719.00" y2="103.50" stroke="#0a0a0a" stroke-width="1.00"/>
<line x1="665.60" y1="188.10" x2="719.00" y2="188.10" stroke="#0a0a0a" stroke-width="1.00"/>
<line x1="653.10" y1="178.50" x2="695.00" y2="178.50" stroke="#0a0a0a" stroke-width="1.00"/>
<line x1="716.50" y1="62.20" x2="716.50" y2="103.50" stroke="#0a0a0a" stroke-width="1.00"/>
<polygon points="716.50,62.20 718.30,71.00 714.70,71.00" fill="#111"/>
<polygon points="716.50,103.50 714.70,94.70 718.30,94.70" fill="#111"/>
<line x1="716.50" y1="103.50" x2="716.50" y2="188.10" stroke="#0a0a0a" stroke-width="1.00"/>
<polygon points="716.50,103.50 718.30,112.30 714.70,112.30" fill="#111"/>
<polygon points="716.50,188.10 714.70,179.30 718.30,179.30" fill="#111"/>
<text x="713.80" y="82.70" font-size="13" fill="#111" text-anchor="middle" transform="rotate(-90 713.80 82.70)">3.48</text>
<text x="713.80" y="145.40" font-size="13" fill="#111" text-anchor="middle" transform="rotate(-90 713.80 145.40)">7.1</text>
<line x1="692.10" y1="161.30" x2="692.10" y2="188.10" stroke="#0a0a0a" stroke-width="1.00"/>
<polygon points="692.10,178.50 690.30,170.25 693.90,170.25" fill="#111"/>
<line x1="692.10" y1="188.10" x2="692.10" y2="234.40" stroke="#0a0a0a" stroke-width="1.00"/>
<polygon points="692.10,188.10 693.90,196.35 690.30,196.35" fill="#111"/>
<text x="690.00" y="219.40" font-size="13" fill="#111" text-anchor="middle" transform="rotate(-90 690.00 219.40)">0.78</text>
<polyline points="842.55,124.65 933.09,142.25" fill="none" stroke="#151515" stroke-width="0.99" stroke-linejoin="round"/>
<polyline points="843.05,131.99 933.09,148.49" fill="none" stroke="#151515" stroke-width="0.99" stroke-linejoin="round"/>
<polyline points="842.55,124.65 843.25,157.85 849.08,159.36" fill="none" stroke="#151515" stroke-width="0.99" stroke-linejoin="round"/>
<polyline points="843.25,157.85 849.08,159.26 850.09,201.31 859.65,202.82" fill="none" stroke="#151515" stroke-width="0.99" stroke-linejoin="round"/>
<polyline points="842.55,124.65 856.63,114.59 861.36,115.59 865.18,111.57" fill="none" stroke="#151515" stroke-width="0.99" stroke-linejoin="round"/>
<polyline points="865.18,111.57 865.68,108.55 869.21,106.84 873.23,107.55" fill="none" stroke="#151515" stroke-width="1.08" stroke-linejoin="round"/>
<polyline points="866.19,110.06 873.03,110.56" fill="none" stroke="#333" stroke-width="1.26" stroke-linejoin="round"/>
<polyline points="873.53,102.01 873.53,120.62 911.46,129.18 921.02,130.68" fill="none" stroke="#151515" stroke-width="0.99" stroke-linejoin="round"/>
<polyline points="911.57,108.55 911.07,129.18 921.13,130.68 929.18,124.65 928.67,105.03" fill="none" stroke="#151515" stroke-width="0.99" stroke-linejoin="round"/>
<polyline points="911.57,108.55 920.62,110.06 928.17,104.53" fill="none" stroke="#151515" stroke-width="0.99" stroke-linejoin="round"/>
<polyline points="920.62,110.06 921.13,130.68" fill="none" stroke="#151515" stroke-width="0.99" stroke-linejoin="round"/>
<polyline points="932.19,142.25 933.20,164.99" fill="none" stroke="#151515" stroke-width="0.99" stroke-linejoin="round"/>
<polyline points="932.19,142.25 944.77,131.19 941.25,130.18 945.27,126.66" fill="none" stroke="#151515" stroke-width="0.99" stroke-linejoin="round"/>
<polyline points="932.19,148.49 939.74,143.26 940.74,164.99" fill="none" stroke="#151515" stroke-width="0.99" stroke-linejoin="round"/>
<polyline points="933.09,142.25 933.09,148.49" fill="none" stroke="#151515" stroke-width="0.99" stroke-linejoin="round"/>
<polyline points="943.76,104.02 972.94,109.56" fill="none" stroke="#151515" stroke-width="0.99" stroke-linejoin="round"/>
<polyline points="972.94,109.56 959.36,120.12 954.33,119.62 950.30,123.14" fill="none" stroke="#151515" stroke-width="0.99" stroke-linejoin="round"/>
<polyline points="972.94,109.56 974.45,116.10 974.95,141.75 968.41,147.28" fill="none" stroke="#151515" stroke-width="0.99" stroke-linejoin="round"/>
<polyline points="965.90,121.13 974.45,116.10" fill="none" stroke="#151515" stroke-width="0.99" stroke-linejoin="round"/>
<polyline points="965.90,121.13 967.91,147.28" fill="none" stroke="#151515" stroke-width="0.99" stroke-linejoin="round"/>
<polyline points="959.36,120.12 960.36,152.31" fill="none" stroke="#151515" stroke-width="0.99" stroke-linejoin="round"/>
<polyline points="946.28,125.15 947.28,162.37 960.36,152.31" fill="none" stroke="#151515" stroke-width="1.17" stroke-linejoin="round"/>
<polyline points="949.80,125.15 950.80,152.31 957.85,148.29 954.83,128.17" fill="none" stroke="#151515" stroke-width="0.99" stroke-linejoin="round"/>
<polyline points="950.80,133.20 955.33,150.30" fill="none" stroke="#333" stroke-width="0.90" stroke-linejoin="round"/>
<polyline points="952.31,130.18 957.85,148.29" fill="none" stroke="#333" stroke-width="0.90" stroke-linejoin="round"/>
<polyline points="950.30,129.18 955.33,126.66" fill="none" stroke="#151515" stroke-width="1.08" stroke-linejoin="round"/>
<polyline points="954.33,119.62 954.83,128.17" fill="none" stroke="#151515" stroke-width="0.99" stroke-linejoin="round"/>
<polyline points="929.68,119.11 950.30,123.14" fill="none" stroke="#151515" stroke-width="1.17" stroke-linejoin="round"/>
<polyline points="930.18,121.63 947.28,124.65" fill="none" stroke="#333" stroke-width="1.17" stroke-linejoin="round"/>
<polyline points="930.18,120.32 948.29,123.84" fill="none" stroke="#777" stroke-width="1.44" stroke-linejoin="round"/>
<polyline points="935.21,118.61 943.76,112.58 943.76,100.00" fill="none" stroke="#151515" stroke-width="0.99" stroke-linejoin="round"/>
<polyline points="932.70,150.00 933.70,174.14" fill="none" stroke="#151515" stroke-width="0.99" stroke-linejoin="round"/>
<polyline points="927.67,173.64 933.70,174.65 938.73,170.62" fill="none" stroke="#151515" stroke-width="0.99" stroke-linejoin="round"/>
<polyline points="927.67,173.64 929.18,214.99" fill="none" stroke="#151515" stroke-width="1.17" stroke-linejoin="round"/>
<polyline points="933.09,150.00 934.09,174.14" fill="none" stroke="#151515" stroke-width="0.99" stroke-linejoin="round"/>
<polyline points="928.06,174.14 929.06,214.99" fill="none" stroke="#151515" stroke-width="1.17" stroke-linejoin="round"/>
<polyline points="860.15,202.31 860.15,196.78 918.00,207.85 918.50,214.39" fill="none" stroke="#151515" stroke-width="0.99" stroke-linejoin="round"/>
<polyline points="859.65,202.55 862.16,201.04 862.67,197.52" fill="none" stroke="#151515" stroke-width="0.90" stroke-linejoin="round"/>
<polyline points="918.00,207.58 918.50,214.62 928.56,216.63" fill="none" stroke="#151515" stroke-width="0.99" stroke-linejoin="round"/>
<polyline points="940.24,150.00 939.74,169.11 947.28,177.16 960.36,166.60 966.90,150.00" fill="none" stroke="#151515" stroke-width="1.08" stroke-linejoin="round"/>
<polyline points="947.28,150.00 947.28,164.08 960.36,155.03 960.36,150.00" fill="none" stroke="#151515" stroke-width="1.08" stroke-linejoin="round"/>
<polyline points="938.73,170.62 944.27,176.16 947.28,177.16" fill="none" stroke="#151515" stroke-width="0.99" stroke-linejoin="round"/>
<polyline points="950.30,152.01 956.34,148.99" fill="none" stroke="#333" stroke-width="1.44" stroke-linejoin="round"/>
<polyline points="968.91,150.00 969.92,180.18 960.36,185.21 934.21,205.33 935.21,211.37 931.19,214.39" fill="none" stroke="#151515" stroke-width="0.99" stroke-linejoin="round"/>
<polyline points="947.28,177.16 954.83,171.63 964.39,172.64" fill="none" stroke="#151515" stroke-width="1.08" stroke-linejoin="round"/>
<polyline points="900.00,204.05 917.61,207.58 918.11,214.62 928.67,216.63" fill="none" stroke="#151515" stroke-width="0.99" stroke-linejoin="round"/>
<polyline points="928.67,216.63 934.71,212.10 934.71,205.06 947.28,195.00" fill="none" stroke="#151515" stroke-width="0.99" stroke-linejoin="round"/>
<polygon points="960.36,174.14 961.57,214.99 962.37,246.31 964.39,247.52 966.40,245.30 965.90,214.99 965.39,173.64" fill="#e4e4e4" stroke="#222" stroke-width="1.00" stroke-linejoin="round"/>
<polyline points="962.88,174.14 963.88,214.99" fill="none" stroke="#777" stroke-width="0.81" stroke-linejoin="round"/>
<polyline points="963.58,195.00 964.39,246.81" fill="none" stroke="#777" stroke-width="0.81" stroke-linejoin="round"/>
<polyline points="954.83,171.63 960.36,171.93 965.39,173.34" fill="none" stroke="#151515" stroke-width="1.17" stroke-linejoin="round"/>
<polygon points="854.62,202.55 855.62,226.19 858.94,225.18 858.64,203.05" fill="#e4e4e4" stroke="#222" stroke-width="1.00" stroke-linejoin="round"/>
<polyline points="850.09,195.00 850.09,201.04 859.65,202.55" fill="none" stroke="#151515" stroke-width="0.99" stroke-linejoin="round"/>
<polyline points="865.18,198.02 863.67,213.11 867.19,235.24 869.71,238.26" fill="none" stroke="#151515" stroke-width="0.99" stroke-linejoin="round"/>
<polyline points="873.23,200.03 870.71,215.12 873.93,225.18 873.03,235.24 869.71,238.26" fill="none" stroke="#151515" stroke-width="1.17" stroke-linejoin="round"/>
<polyline points="865.18,204.05 872.22,204.76" fill="none" stroke="#151515" stroke-width="0.90" stroke-linejoin="round"/>
<polyline points="863.87,212.61 870.92,213.81" fill="none" stroke="#151515" stroke-width="0.90" stroke-linejoin="round"/>
<polyline points="864.68,219.65 872.22,220.96" fill="none" stroke="#151515" stroke-width="0.90" stroke-linejoin="round"/>
<polyline points="865.68,225.18 873.73,226.99" fill="none" stroke="#151515" stroke-width="0.90" stroke-linejoin="round"/>
<polyline points="871.72,200.03 869.71,215.12 872.73,225.18 871.82,235.24" fill="none" stroke="#444" stroke-width="0.90" stroke-linejoin="round"/>
<polyline points="891.84,203.55 890.33,219.14 893.85,240.27 896.37,243.29" fill="none" stroke="#151515" stroke-width="0.99" stroke-linejoin="round"/>
<polyline points="900.90,205.06 897.88,220.15 900.59,233.23 899.59,241.28 896.37,243.29" fill="none" stroke="#151515" stroke-width="1.17" stroke-linejoin="round"/>
<polyline points="891.64,208.58 899.39,210.09" fill="none" stroke="#151515" stroke-width="0.90" stroke-linejoin="round"/>
<polyline points="890.53,217.64 898.18,219.14" fill="none" stroke="#151515" stroke-width="0.90" stroke-linejoin="round"/>
<polyline points="891.34,224.18 899.39,225.68" fill="none" stroke="#151515" stroke-width="0.90" stroke-linejoin="round"/>
<polyline points="892.34,229.71 900.39,231.42" fill="none" stroke="#151515" stroke-width="0.90" stroke-linejoin="round"/>
<polyline points="899.39,205.06 896.57,220.15 899.39,233.23 898.38,241.28" fill="none" stroke="#444" stroke-width="0.90" stroke-linejoin="round"/>
<polyline points="918.50,215.12 917.49,225.18 921.02,246.31 923.53,248.32" fill="none" stroke="#151515" stroke-width="0.99" stroke-linejoin="round"/>
<polyline points="927.56,216.63 924.54,226.19 927.56,237.25 926.05,246.31 923.53,248.32" fill="none" stroke="#151515" stroke-width="1.17" stroke-linejoin="round"/>
<polyline points="918.00,222.16 924.84,223.67" fill="none" stroke="#151515" stroke-width="0.90" stroke-linejoin="round"/>
<polyline points="918.00,228.70 926.05,230.21" fill="none" stroke="#151515" stroke-width="0.90" stroke-linejoin="round"/>
<polyline points="919.31,234.74 927.05,236.45" fill="none" stroke="#151515" stroke-width="0.90" stroke-linejoin="round"/>
<polyline points="926.05,216.63 923.33,226.19 926.35,237.25 925.04,246.31" fill="none" stroke="#444" stroke-width="0.90" stroke-linejoin="round"/>
<polyline points="949.30,195.00 947.28,213.11 948.79,225.18 951.31,226.19" fill="none" stroke="#151515" stroke-width="0.99" stroke-linejoin="round"/>
<polyline points="956.34,195.00 957.34,201.04 954.83,221.16 952.31,226.19 951.31,226.19" fill="none" stroke="#151515" stroke-width="1.17" stroke-linejoin="round"/>
<polyline points="948.29,200.53 956.84,201.54" fill="none" stroke="#151515" stroke-width="0.90" stroke-linejoin="round"/>
<polyline points="947.28,212.10 955.33,213.11" fill="none" stroke="#151515" stroke-width="0.90" stroke-linejoin="round"/>
<polyline points="949.30,195.27 947.28,214.99" fill="none" stroke="#151515" stroke-width="0.99" stroke-linejoin="round"/>
<polyline points="956.34,190.24 957.85,202.31 954.83,214.99" fill="none" stroke="#151515" stroke-width="1.17" stroke-linejoin="round"/>
<polyline points="949.30,195.27 953.32,190.24 956.34,190.24" fill="none" stroke="#151515" stroke-width="0.99" stroke-linejoin="round"/>
<polyline points="948.29,202.31 956.84,202.82" fill="none" stroke="#151515" stroke-width="0.90" stroke-linejoin="round"/>
<polyline points="952.82,191.25 955.84,202.31 953.32,214.99" fill="none" stroke="#444" stroke-width="0.90" stroke-linejoin="round"/>
<polyline points="885.85,93.62 886.28,72.34 902.45,68.34 902.87,80.00" fill="none" stroke="#151515" stroke-width="1.08" stroke-linejoin="round"/>
<polyline points="886.28,72.34 890.36,73.02 900.32,70.21" fill="none" stroke="#151515" stroke-width="0.90" stroke-linejoin="round"/>
<polyline points="890.53,73.19 890.96,94.72" fill="none" stroke="#151515" stroke-width="0.99" stroke-linejoin="round"/>
<polyline points="900.32,70.21 900.57,96.17" fill="none" stroke="#151515" stroke-width="1.08" stroke-linejoin="round"/>
<polyline points="886.02,84.26 885.94,93.36" fill="none" stroke="#333" stroke-width="1.80" stroke-linejoin="round"/>
<polyline points="902.87,80.00 928.83,84.68" fill="none" stroke="#151515" stroke-width="0.99" stroke-linejoin="round"/>
<polyline points="900.74,81.02 928.40,86.04" fill="none" stroke="#151515" stroke-width="0.99" stroke-linejoin="round"/>
<polyline points="900.74,81.02 902.87,80.00" fill="none" stroke="#151515" stroke-width="0.90" stroke-linejoin="round"/>
<polyline points="904.57,81.79 904.57,93.02" fill="none" stroke="#151515" stroke-width="0.90" stroke-linejoin="round"/>
<polyline points="882.45,94.89 911.81,101.02" fill="none" stroke="#151515" stroke-width="1.08" stroke-linejoin="round"/>
<polyline points="884.74,93.62 900.57,96.43 911.81,99.57" fill="none" stroke="#151515" stroke-width="0.99" stroke-linejoin="round"/>
<polyline points="900.57,96.26 902.45,94.47 905.00,93.36 908.40,93.19 911.81,93.70" fill="none" stroke="#151515" stroke-width="0.90" stroke-linejoin="round"/>
<polygon points="879.89,77.45 884.57,78.30 884.40,83.40 881.17,83.83 879.47,80.85" fill="none" stroke="#151515" stroke-width="1.08" stroke-linejoin="round"/>
<polyline points="881.17,83.83 876.06,89.36 876.06,92.77 882.02,94.89 882.45,101.70 876.91,99.32" fill="none" stroke="#151515" stroke-width="1.08" stroke-linejoin="round"/>
<polyline points="877.77,88.51 882.45,88.94" fill="none" stroke="#151515" stroke-width="0.90" stroke-linejoin="round"/>
<polyline points="876.49,91.66 882.45,92.51" fill="none" stroke="#151515" stroke-width="0.90" stroke-linejoin="round"/>
<polyline points="879.47,87.23 879.89,94.04" fill="none" stroke="#151515" stroke-width="0.90" stroke-linejoin="round"/>
<polyline points="882.45,83.83 882.62,94.89" fill="none" stroke="#151515" stroke-width="1.08" stroke-linejoin="round"/>
<polyline points="877.77,95.06 870.96,102.55 870.11,105.96" fill="none" stroke="#151515" stroke-width="1.08" stroke-linejoin="round"/>
<polyline points="865.00,109.79 870.11,106.38 873.09,107.66" fill="none" stroke="#151515" stroke-width="1.17" stroke-linejoin="round"/>
<polyline points="865.00,111.06 872.66,110.64" fill="none" stroke="#444" stroke-width="1.26" stroke-linejoin="round"/>
<polyline points="870.96,102.55 873.51,102.13 873.51,114.98" fill="none" stroke="#151515" stroke-width="1.08" stroke-linejoin="round"/>
<polyline points="870.28,103.83 872.49,104.26 872.66,107.66" fill="none" stroke="#151515" stroke-width="0.90" stroke-linejoin="round"/>
<polyline points="912.23,107.66 911.81,89.36 919.47,87.06 928.83,85.53" fill="none" stroke="#151515" stroke-width="1.08" stroke-linejoin="round"/>
<polyline points="912.23,107.66 920.32,106.38 928.40,104.26" fill="none" stroke="#151515" stroke-width="0.99" stroke-linejoin="round"/>
<polygon points="912.23,97.45 915.21,95.74 920.32,98.30 924.57,94.04 928.40,94.89 928.40,97.87 925.43,97.45 920.32,101.70 916.06,100.00 912.23,100.85" fill="#fff" stroke="#0a0a0a" stroke-width="1.10" stroke-linejoin="round"/>
<polyline points="915.21,95.74 916.06,100.00" fill="none" stroke="#151515" stroke-width="0.90" stroke-linejoin="round"/>
<polyline points="920.32,98.30 920.32,101.70" fill="none" stroke="#151515" stroke-width="0.90" stroke-linejoin="round"/>
<polyline points="924.57,94.04 925.43,97.45" fill="none" stroke="#151515" stroke-width="0.90" stroke-linejoin="round"/>
<polyline points="916.91,99.83 920.32,100.85 923.72,97.87" fill="none" stroke="#888" stroke-width="1.44" stroke-linejoin="round"/>
<polyline points="935.64,81.70 939.21,84.26 939.72,87.06 938.62,89.36 935.64,90.64" fill="none" stroke="#151515" stroke-width="1.17" stroke-linejoin="round"/>
<polyline points="935.64,84.26 937.51,85.53 937.77,87.66 935.64,88.94" fill="none" stroke="#151515" stroke-width="0.90" stroke-linejoin="round"/>
<polyline points="935.64,91.91 942.87,92.77 943.30,107.66" fill="none" stroke="#151515" stroke-width="1.08" stroke-linejoin="round"/>
<polyline points="935.64,97.45 942.87,92.77" fill="none" stroke="#151515" stroke-width="0.90" stroke-linejoin="round"/>
<polyline points="943.76,112.31 935.71,118.85" fill="none" stroke="#151515" stroke-width="1.08" stroke-linejoin="round"/>
<polyline points="911.38,108.51 920.74,110.21 928.40,105.11" fill="none" stroke="#151515" stroke-width="0.99" stroke-linejoin="round"/>
<polyline points="911.38,108.51 911.13,114.98" fill="none" stroke="#151515" stroke-width="0.99" stroke-linejoin="round"/>
<polyline points="920.74,110.21 920.91,114.98" fill="none" stroke="#151515" stroke-width="0.99" stroke-linejoin="round"/>
<polyline points="929.68,118.85 950.30,122.88" fill="none" stroke="#151515" stroke-width="1.26" stroke-linejoin="round"/>
<polygon points="929.26,76.60 932.23,73.62 935.64,77.87 935.64,114.98 929.68,114.98" fill="#fff" stroke="#0a0a0a" stroke-width="1.20" stroke-linejoin="round"/>
<polyline points="931.38,81.28 931.81,114.98" fill="none" stroke="#555" stroke-width="0.90" stroke-linejoin="round"/>
<polyline points="929.68,81.28 930.02,114.98" fill="none" stroke="#555" stroke-width="1.08" stroke-linejoin="round"/>
<text x="421.20" y="374.40" font-size="21.5" fill="#111" text-anchor="middle">CIRCUIT</text>
<line x1="377.30" y1="378.80" x2="465.30" y2="378.80" stroke="#444" stroke-width="1.50"/>
<rect x="236.90" y="400.60" width="341.70" height="228.90" fill="none" stroke="#0a0a0a" stroke-width="1.20"/>
<line x1="236.90" y1="434.40" x2="578.60" y2="434.40" stroke="#0a0a0a" stroke-width="1.10"/>
<line x1="236.90" y1="464.20" x2="485.60" y2="464.20" stroke="#0a0a0a" stroke-width="1.10"/>
<line x1="236.90" y1="509.40" x2="485.60" y2="509.40" stroke="#0a0a0a" stroke-width="1.10"/>
<line x1="236.90" y1="540.80" x2="485.60" y2="540.80" stroke="#0a0a0a" stroke-width="1.10"/>
<line x1="236.90" y1="587.50" x2="578.60" y2="587.50" stroke="#0a0a0a" stroke-width="1.10"/>
<line x1="331.50" y1="400.60" x2="331.50" y2="629.50" stroke="#0a0a0a" stroke-width="1.10"/>
<line x1="410.60" y1="434.40" x2="410.60" y2="587.50" stroke="#0a0a0a" stroke-width="1.10"/>
<line x1="485.60" y1="400.60" x2="485.60" y2="587.50" stroke="#0a0a0a" stroke-width="1.10"/>
<text x="285.00" y="424.80" font-size="19.8" fill="#111" text-anchor="middle">Type</text>
<text x="409.60" y="424.80" font-size="19.8" fill="#111" text-anchor="middle">Switch Action</text>
<text x="535.60" y="425.30" font-size="19.8" fill="#111" text-anchor="middle">Circuit</text>
<text x="285.30" y="456.20" font-size="15" fill="#111" text-anchor="middle">Lock</text>
<text x="286.20" y="481.30" font-size="15" fill="#111" text-anchor="middle">Connected</text>
<text x="284.00" y="499.00" font-size="15" fill="#111" text-anchor="middle">Terminals</text>
<text x="287.20" y="529.70" font-size="15" fill="#111" text-anchor="middle">No Lock</text>
<text x="286.20" y="558.40" font-size="15" fill="#111" text-anchor="middle">Connected</text>
<text x="284.00" y="576.20" font-size="15" fill="#111" text-anchor="middle">Terminals</text>
<text x="283.70" y="612.70" font-size="15" fill="#111" text-anchor="middle">LED Circuit</text>
<text x="369.20" y="446.30" font-size="11.5" fill="#111" text-anchor="middle">Normal</text>
<text x="369.70" y="460.60" font-size="11.5" fill="#111" text-anchor="middle">ON</text>
<text x="447.20" y="446.30" font-size="11.5" fill="#111" text-anchor="middle">Push to lock</text>
<text x="444.70" y="460.60" font-size="11.5" fill="#111" text-anchor="middle">ON</text>
<text x="369.20" y="521.30" font-size="11.5" fill="#111" text-anchor="middle">Normal</text>
<text x="369.70" y="535.60" font-size="11.5" fill="#111" text-anchor="middle">ON</text>
<text x="447.20" y="521.30" font-size="11.5" fill="#111" text-anchor="middle">Push to lock</text>
<text x="444.70" y="535.60" font-size="11.5" fill="#111" text-anchor="middle">ON</text>
<text x="370.30" y="479.80" font-size="14.4" fill="#111" text-anchor="middle">1 - 2</text>
<text x="370.30" y="501.90" font-size="14.4" fill="#111" text-anchor="middle">4 - 5</text>
<text x="450.00" y="479.80" font-size="14.4" fill="#111" text-anchor="middle">2 - 3</text>
<text x="450.00" y="501.90" font-size="14.4" fill="#111" text-anchor="middle">5 - 6</text>
<text x="370.30" y="556.30" font-size="14.4" fill="#111" text-anchor="middle">1 - 2</text>
<text x="370.30" y="578.40" font-size="14.4" fill="#111" text-anchor="middle">4 - 5</text>
<text x="450.00" y="556.30" font-size="14.4" fill="#111" text-anchor="middle">2 - 3</text>
<text x="450.00" y="578.40" font-size="14.4" fill="#111" text-anchor="middle">5 - 6</text>
<line x1="528.80" y1="470.60" x2="528.80" y2="540.00" stroke="#555" stroke-width="1.50"/>
<line x1="514.30" y1="478.60" x2="545.80" y2="460.90" stroke="#0a0a0a" stroke-width="1.10"/>
<polygon points="545.80,460.90 539.67,466.82 537.55,463.06" fill="#111"/>
<circle cx="508.80" cy="478.80" r="5.30" fill="#fff" stroke="#0a0a0a" stroke-width="1.00"/>
<line x1="506.00" y1="478.80" x2="511.60" y2="478.80" stroke="#0a0a0a" stroke-width="1.00"/>
<line x1="508.80" y1="476.00" x2="508.80" y2="481.60" stroke="#0a0a0a" stroke-width="1.00"/>
<circle cx="551.50" cy="458.50" r="5.30" fill="#fff" stroke="#0a0a0a" stroke-width="1.00"/>
<line x1="548.70" y1="458.50" x2="554.30" y2="458.50" stroke="#0a0a0a" stroke-width="1.00"/>
<line x1="551.50" y1="455.70" x2="551.50" y2="461.30" stroke="#0a0a0a" stroke-width="1.00"/>
<line x1="493.10" y1="478.80" x2="503.50" y2="478.80" stroke="#0a0a0a" stroke-width="1.00"/>
<text x="498.00" y="477.00" font-size="13.5" fill="#111" text-anchor="middle" style="stroke-width:0.2px">2</text>
<line x1="556.80" y1="458.50" x2="566.30" y2="458.50" stroke="#0a0a0a" stroke-width="1.00"/>
<text x="562.20" y="456.50" font-size="13.5" fill="#111" text-anchor="middle" style="stroke-width:0.2px">1</text>
<line x1="514.30" y1="549.80" x2="545.80" y2="532.00" stroke="#0a0a0a" stroke-width="1.10"/>
<polygon points="545.80,532.00 539.68,537.94 537.55,534.18" fill="#111"/>
<circle cx="508.80" cy="550.00" r="5.30" fill="#fff" stroke="#0a0a0a" stroke-width="1.00"/>
<line x1="506.00" y1="550.00" x2="511.60" y2="550.00" stroke="#0a0a0a" stroke-width="1.00"/>
<line x1="508.80" y1="547.20" x2="508.80" y2="552.80" stroke="#0a0a0a" stroke-width="1.00"/>
<circle cx="551.50" cy="529.60" r="5.30" fill="#fff" stroke="#0a0a0a" stroke-width="1.00"/>
<line x1="548.70" y1="529.60" x2="554.30" y2="529.60" stroke="#0a0a0a" stroke-width="1.00"/>
<line x1="551.50" y1="526.80" x2="551.50" y2="532.40" stroke="#0a0a0a" stroke-width="1.00"/>
<line x1="493.10" y1="550.00" x2="503.50" y2="550.00" stroke="#0a0a0a" stroke-width="1.00"/>
<text x="498.00" y="548.20" font-size="13.5" fill="#111" text-anchor="middle" style="stroke-width:0.2px">5</text>
<line x1="556.80" y1="529.60" x2="566.30" y2="529.60" stroke="#0a0a0a" stroke-width="1.00"/>
<text x="562.20" y="527.60" font-size="13.5" fill="#111" text-anchor="middle" style="stroke-width:0.2px">4</text>
<circle cx="551.50" cy="498.80" r="5.30" fill="#fff" stroke="#0a0a0a" stroke-width="1.00"/>
<line x1="548.70" y1="498.80" x2="554.30" y2="498.80" stroke="#0a0a0a" stroke-width="1.00"/>
<line x1="551.50" y1="496.00" x2="551.50" y2="501.60" stroke="#0a0a0a" stroke-width="1.00"/>
<line x1="556.80" y1="498.80" x2="566.30" y2="498.80" stroke="#333" stroke-width="1.00"/>
<text x="562.40" y="496.80" font-size="13.5" fill="#111" text-anchor="middle" style="stroke-width:0.2px">3</text>
<circle cx="551.50" cy="570.00" r="5.30" fill="#fff" stroke="#0a0a0a" stroke-width="1.00"/>
<line x1="548.70" y1="570.00" x2="554.30" y2="570.00" stroke="#0a0a0a" stroke-width="1.00"/>
<line x1="551.50" y1="567.20" x2="551.50" y2="572.80" stroke="#0a0a0a" stroke-width="1.00"/>
<line x1="556.80" y1="570.00" x2="566.30" y2="570.00" stroke="#333" stroke-width="1.00"/>
<text x="562.40" y="568.00" font-size="13.5" fill="#111" text-anchor="middle" style="stroke-width:0.2px">6</text>
<text x="385.30" y="614.50" font-size="11.5" fill="#111">L1</text>
<text x="496.20" y="614.50" font-size="11.5" fill="#111">L2</text>
<line x1="415.40" y1="611.40" x2="479.00" y2="611.40" stroke="#0a0a0a" stroke-width="1.00"/>
<circle cx="410.00" cy="611.40" r="5.40" fill="#fff" stroke="#0a0a0a" stroke-width="1.00"/>
<line x1="407.20" y1="611.40" x2="412.80" y2="611.40" stroke="#0a0a0a" stroke-width="1.00"/>
<line x1="410.00" y1="608.60" x2="410.00" y2="614.20" stroke="#0a0a0a" stroke-width="1.00"/>
<circle cx="484.40" cy="611.40" r="5.40" fill="#fff" stroke="#0a0a0a" stroke-width="1.00"/>
<line x1="481.60" y1="611.40" x2="487.20" y2="611.40" stroke="#0a0a0a" stroke-width="1.00"/>
<line x1="484.40" y1="608.60" x2="484.40" y2="614.20" stroke="#0a0a0a" stroke-width="1.00"/>
<line x1="407.20" y1="601.70" x2="412.40" y2="601.70" stroke="#0a0a0a" stroke-width="1.10"/>
<line x1="409.80" y1="599.10" x2="409.80" y2="604.30" stroke="#0a0a0a" stroke-width="1.10"/>
<line x1="482.00" y1="602.50" x2="485.20" y2="602.50" stroke="#0a0a0a" stroke-width="1.30"/>
<polygon points="441.9,607.6 441.9,615.2 449.4,611.4" fill="#111"/>
<line x1="449.70" y1="606.20" x2="449.70" y2="616.70" stroke="#0a0a0a" stroke-width="1.10"/>
<polyline points="445.80,598.20 440.60,603.00 447.80,603.00 444.80,608.50" fill="none" stroke="#0a0a0a" stroke-width="1.00" stroke-linejoin="miter"/>
<text x="641.00" y="374.60" font-size="21.5" fill="#111" style="stroke-width:0.6px" textLength="139.4" lengthAdjust="spacingAndGlyphs">P.C.B. LAYOUT</text>
<line x1="640.60" y1="379.10" x2="781.00" y2="379.10" stroke="#444" stroke-width="1.50"/>
<line x1="631.30" y1="416.00" x2="772.00" y2="416.00" stroke="#0a0a0a" stroke-width="1.00"/>
<polygon points="673.10,416.00 681.90,414.08 681.90,417.92" fill="#111"/>
<polygon points="703.40,416.00 694.60,417.92 694.60,414.08" fill="#111"/>
<polygon points="703.40,416.00 712.20,414.08 712.20,417.92" fill="#111"/>
<polygon points="733.60,416.00 724.80,417.92 724.80,414.08" fill="#111"/>
<text x="632.90" y="412.90" font-size="13" fill="#111">2.54</text>
<text x="743.90" y="412.90" font-size="13" fill="#111">2.54</text>
<line x1="673.10" y1="413.30" x2="673.10" y2="445.00" stroke="#0a0a0a" stroke-width="1.00"/>
<line x1="673.10" y1="448.00" x2="673.10" y2="532.50" stroke="#0a0a0a" stroke-width="1.00" stroke-dasharray="10.4 1.3 1.7 1.3"/>
<line x1="703.40" y1="413.30" x2="703.40" y2="445.00" stroke="#0a0a0a" stroke-width="1.00"/>
<line x1="703.40" y1="448.00" x2="703.40" y2="532.50" stroke="#0a0a0a" stroke-width="1.00" stroke-dasharray="10.4 1.3 1.7 1.3"/>
<line x1="733.60" y1="413.30" x2="733.60" y2="445.00" stroke="#0a0a0a" stroke-width="1.00"/>
<line x1="733.60" y1="448.00" x2="733.60" y2="532.50" stroke="#0a0a0a" stroke-width="1.00" stroke-dasharray="10.4 1.3 1.7 1.3"/>
<line x1="660.60" y1="460.00" x2="685.60" y2="460.00" stroke="#0a0a0a" stroke-width="1.00"/>
<line x1="690.90" y1="460.00" x2="715.90" y2="460.00" stroke="#0a0a0a" stroke-width="1.00"/>
<line x1="721.10" y1="460.00" x2="746.10" y2="460.00" stroke="#0a0a0a" stroke-width="1.00"/>
<line x1="660.60" y1="520.30" x2="685.60" y2="520.30" stroke="#0a0a0a" stroke-width="1.00"/>
<line x1="690.90" y1="520.30" x2="715.90" y2="520.30" stroke="#0a0a0a" stroke-width="1.00"/>
<line x1="721.10" y1="520.30" x2="746.10" y2="520.30" stroke="#0a0a0a" stroke-width="1.00"/>
<line x1="748.00" y1="460.00" x2="825.00" y2="460.00" stroke="#0a0a0a" stroke-width="1.00"/>
<line x1="748.00" y1="520.30" x2="825.00" y2="520.30" stroke="#0a0a0a" stroke-width="1.00"/>
<line x1="630.60" y1="490.00" x2="775.60" y2="490.00" stroke="#0a0a0a" stroke-width="1.00" stroke-dasharray="10.4 1.3 1.7 1.3"/>
<line x1="642.60" y1="478.00" x2="642.60" y2="502.00" stroke="#0a0a0a" stroke-width="1.00"/>
<line x1="642.60" y1="504.40" x2="642.60" y2="563.00" stroke="#0a0a0a" stroke-width="1.00"/>
<line x1="763.80" y1="478.00" x2="763.80" y2="502.00" stroke="#0a0a0a" stroke-width="1.00"/>
<line x1="763.80" y1="504.40" x2="763.80" y2="563.00" stroke="#0a0a0a" stroke-width="1.00"/>
<circle cx="673.10" cy="460.00" r="6.00" fill="none" stroke="#0a0a0a" stroke-width="1.00"/>
<circle cx="673.10" cy="520.30" r="6.00" fill="none" stroke="#0a0a0a" stroke-width="1.00"/>
<circle cx="703.40" cy="460.00" r="6.00" fill="none" stroke="#0a0a0a" stroke-width="1.00"/>
<circle cx="703.40" cy="520.30" r="6.00" fill="none" stroke="#0a0a0a" stroke-width="1.00"/>
<circle cx="733.60" cy="460.00" r="6.00" fill="none" stroke="#0a0a0a" stroke-width="1.00"/>
<circle cx="733.60" cy="520.30" r="6.00" fill="none" stroke="#0a0a0a" stroke-width="1.00"/>
<circle cx="642.60" cy="490.00" r="6.00" fill="none" stroke="#0a0a0a" stroke-width="1.00"/>
<circle cx="763.80" cy="490.00" r="6.00" fill="none" stroke="#0a0a0a" stroke-width="1.00"/>
<text x="680.40" y="452.10" font-size="13" fill="#111" text-anchor="middle" style="stroke-width:0.2px">4</text>
<text x="680.10" y="539.90" font-size="13" fill="#111" text-anchor="middle" style="stroke-width:0.2px">1</text>
<text x="712.70" y="452.10" font-size="13" fill="#111" text-anchor="middle" style="stroke-width:0.2px">5</text>
<text x="712.80" y="539.90" font-size="13" fill="#111" text-anchor="middle" style="stroke-width:0.2px">2</text>
<text x="741.90" y="452.10" font-size="13" fill="#111" text-anchor="middle" style="stroke-width:0.2px">6</text>
<text x="741.90" y="539.90" font-size="13" fill="#111" text-anchor="middle" style="stroke-width:0.2px">3</text>
<text x="606.20" y="494.80" font-size="13" fill="#111">L1+</text>
<text x="781.60" y="494.80" font-size="13" fill="#111">L2-</text>
<line x1="642.60" y1="560.40" x2="763.80" y2="560.40" stroke="#0a0a0a" stroke-width="1.00"/>
<polygon points="642.60,560.40 651.40,558.60 651.40,562.20" fill="#111"/>
<polygon points="763.80,560.40 755.00,562.20 755.00,558.60" fill="#111"/>
<text x="704.00" y="557.80" font-size="13" fill="#111" text-anchor="middle">10.16</text>
<line x1="822.70" y1="460.00" x2="822.70" y2="520.30" stroke="#0a0a0a" stroke-width="1.00"/>
<polygon points="822.70,460.00 824.50,468.80 820.90,468.80" fill="#111"/>
<polygon points="822.70,520.30 820.90,511.50 824.50,511.50" fill="#111"/>
<text x="819.90" y="490.40" font-size="13" fill="#111" text-anchor="middle" transform="rotate(-90 819.90 490.40)">5.08</text>
<line x1="621.30" y1="444.40" x2="667.40" y2="458.30" stroke="#0a0a0a" stroke-width="1.00"/>
<polygon points="667.40,458.30 659.54,457.68 660.52,454.46" fill="#111"/>
<line x1="678.80" y1="461.70" x2="695.00" y2="466.60" stroke="#0a0a0a" stroke-width="1.00"/>
<polygon points="678.80,461.70 686.66,462.32 685.68,465.54" fill="#111"/>
<line x1="667.40" y1="458.30" x2="678.80" y2="461.70" stroke="#0a0a0a" stroke-width="0.90"/>
<text x="624.40" y="441.80" font-size="13" fill="#111" transform="rotate(16.81598363951128 624.40 441.80)" font-style="italic" style="stroke-width:0.3px">8-Ø1</text>
<rect x="853.50" y="385.40" width="127.90" height="243.10" fill="none" stroke="#0a0a0a" stroke-width="1.20"/>
<line x1="892.30" y1="385.40" x2="892.30" y2="576.20" stroke="#0a0a0a" stroke-width="1.10"/>
<line x1="892.30" y1="405.20" x2="981.40" y2="405.20" stroke="#0a0a0a" stroke-width="1.10"/>
<line x1="853.50" y1="424.30" x2="981.40" y2="424.30" stroke="#0a0a0a" stroke-width="1.10"/>
<line x1="853.50" y1="447.10" x2="981.40" y2="447.10" stroke="#0a0a0a" stroke-width="1.10"/>
<line x1="853.50" y1="470.60" x2="981.40" y2="470.60" stroke="#0a0a0a" stroke-width="1.10"/>
<line x1="853.50" y1="497.20" x2="981.40" y2="497.20" stroke="#0a0a0a" stroke-width="1.10"/>
<line x1="853.50" y1="523.60" x2="981.40" y2="523.60" stroke="#0a0a0a" stroke-width="1.10"/>
<line x1="853.50" y1="550.00" x2="981.40" y2="550.00" stroke="#0a0a0a" stroke-width="1.10"/>
<line x1="853.50" y1="576.20" x2="981.40" y2="576.20" stroke="#0a0a0a" stroke-width="1.10"/>
<text x="873.10" y="410.40" font-size="16.2" fill="#111" text-anchor="middle">RG</text>
<text x="897.40" y="400.90" font-size="15.2" fill="#111">Red</text>
<text x="976.80" y="400.60" font-size="11.2" fill="#111" text-anchor="end" font-family="'Liberation Sans','Noto Serif CJK SC','Noto Sans CJK SC',serif" style="stroke-width:0px">红色</text>
<text x="897.40" y="419.20" font-size="15.2" fill="#111">Green</text>
<text x="977.40" y="419.00" font-size="11.2" fill="#111" text-anchor="end" font-family="'Liberation Sans','Noto Serif CJK SC','Noto Sans CJK SC',serif" style="stroke-width:0px">翠绿色</text>
<text x="873.20" y="440.70" font-size="16.2" fill="#111" text-anchor="middle">G</text>
<text x="897.40" y="440.40" font-size="15.2" fill="#111">Green</text>
<text x="976.80" y="440.40" font-size="11.2" fill="#111" text-anchor="end" font-family="'Liberation Sans','Noto Serif CJK SC','Noto Sans CJK SC',serif" style="stroke-width:0px">绿色</text>
<text x="873.20" y="464.90" font-size="16.2" fill="#111" text-anchor="middle">W</text>
<text x="897.40" y="464.60" font-size="15.2" fill="#111">White</text>
<text x="976.80" y="464.60" font-size="11.2" fill="#111" text-anchor="end" font-family="'Liberation Sans','Noto Serif CJK SC','Noto Sans CJK SC',serif" style="stroke-width:0px">白色</text>
<text x="873.20" y="490.10" font-size="16.2" fill="#111" text-anchor="middle">U</text>
<text x="897.40" y="489.80" font-size="15.2" fill="#111">Blue</text>
<text x="976.80" y="489.80" font-size="11.2" fill="#111" text-anchor="end" font-family="'Liberation Sans','Noto Serif CJK SC','Noto Sans CJK SC',serif" style="stroke-width:0px">蓝色</text>
<text x="873.20" y="516.80" font-size="16.2" fill="#111" text-anchor="middle">Y</text>
<text x="897.40" y="516.50" font-size="15.2" fill="#111">Yellow</text>
<text x="976.80" y="516.50" font-size="11.2" fill="#111" text-anchor="end" font-family="'Liberation Sans','Noto Serif CJK SC','Noto Sans CJK SC',serif" style="stroke-width:0px">黄色</text>
<text x="873.20" y="542.80" font-size="16.2" fill="#111" text-anchor="middle">O</text>
<text x="897.40" y="542.50" font-size="15.2" fill="#111">Orange</text>
<text x="976.80" y="542.50" font-size="11.2" fill="#111" text-anchor="end" font-family="'Liberation Sans','Noto Serif CJK SC','Noto Sans CJK SC',serif" style="stroke-width:0px">橙色</text>
<text x="873.20" y="568.80" font-size="16.2" fill="#111" text-anchor="middle">R</text>
<text x="897.40" y="568.50" font-size="15.2" fill="#111">Red</text>
<text x="976.80" y="568.50" font-size="11.2" fill="#111" text-anchor="end" font-family="'Liberation Sans','Noto Serif CJK SC','Noto Sans CJK SC',serif" style="stroke-width:0px">红色</text>
<text x="874.30" y="600.00" font-size="14.8" fill="#222" font-family="'Liberation Sans','Noto Serif CJK SC','Noto Sans CJK SC',serif" style="stroke-width:0.1px">灯发光颜色</text>
<text x="955.00" y="599.90" font-size="14.5" fill="#111">X</text>
<text x="875.40" y="617.00" font-size="13" fill="#111">Emitted color X</text>
</svg>
</body></html>
